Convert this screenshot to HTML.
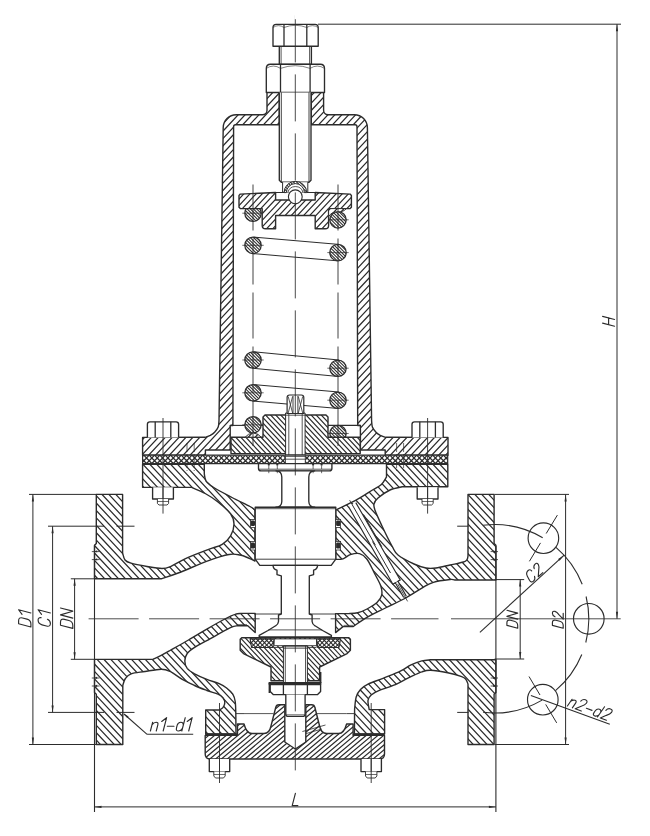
<!DOCTYPE html>
<html><head><meta charset="utf-8"><title>Valve</title>
<style>
html,body{margin:0;padding:0;background:#fff;}
svg{display:block}
</style></head><body>
<svg width="650" height="836" viewBox="0 0 650 836">
<rect width="650" height="836" fill="#fff"/>
<path d="M267.0,92.4 L267.0,110.2 A4.5,4.5 0 0 1 262.5,114.7 L236.2,114.7 A13,13 0 0 0 223.2,127.7 L219.0,420.5 C218.9,421.6 218.9,425.1 218.2,427.0 C217.5,428.9 215.9,430.8 214.6,432.2 C213.3,433.6 211.9,434.5 210.3,435.4 C208.7,436.2 205.9,437.0 205.0,437.3 L142.6,437.4 L142.6,455.2 L205.4,455.2 L205.4,450.0 L230.2,450.0 L230.2,425.5 L232.9,425.5 L233.6,126.7 A2,2 0 0 1 235.6,124.7 L279.3,124.7 L279.3,92.4Z" fill="#fff" stroke="none"/>
<clipPath id="c1"><path d="M267.0,92.4 L267.0,110.2 A4.5,4.5 0 0 1 262.5,114.7 L236.2,114.7 A13,13 0 0 0 223.2,127.7 L219.0,420.5 C218.9,421.6 218.9,425.1 218.2,427.0 C217.5,428.9 215.9,430.8 214.6,432.2 C213.3,433.6 211.9,434.5 210.3,435.4 C208.7,436.2 205.9,437.0 205.0,437.3 L142.6,437.4 L142.6,455.2 L205.4,455.2 L205.4,450.0 L230.2,450.0 L230.2,425.5 L232.9,425.5 L233.6,126.7 A2,2 0 0 1 235.6,124.7 L279.3,124.7 L279.3,92.4Z"/></clipPath>
<path d="M141.6,92.5L142.6,91.4M141.6,99.9L149.5,91.4M141.6,107.3L156.4,91.4M141.6,114.7L163.3,91.4M141.6,122.1L170.3,91.4M141.6,129.5L177.2,91.4M141.6,136.9L184.1,91.4M141.6,144.3L191.0,91.4M141.6,151.7L197.9,91.4M141.6,159.2L204.8,91.4M141.6,166.6L211.7,91.4M141.6,174.0L218.6,91.4M141.6,181.4L225.5,91.4M141.6,188.8L232.4,91.4M141.6,196.2L239.3,91.4M141.6,203.6L246.2,91.4M141.6,211.0L253.1,91.4M141.6,218.4L260.0,91.4M141.6,225.8L266.9,91.4M141.6,233.2L273.8,91.4M141.6,240.6L280.3,91.9M141.6,248.0L280.3,99.3M141.6,255.4L280.3,106.7M141.6,262.8L280.3,114.1M141.6,270.2L280.3,121.5M141.6,277.6L280.3,128.9M141.6,285.0L280.3,136.3M141.6,292.4L280.3,143.7M141.6,299.8L280.3,151.1M141.6,307.2L280.3,158.5M141.6,314.6L280.3,165.9M141.6,322.1L280.3,173.3M141.6,329.5L280.3,180.7M141.6,336.9L280.3,188.1M141.6,344.3L280.3,195.5M141.6,351.7L280.3,202.9M141.6,359.1L280.3,210.3M141.6,366.5L280.3,217.7M141.6,373.9L280.3,225.1M141.6,381.3L280.3,232.6M141.6,388.7L280.3,240.0M141.6,396.1L280.3,247.4M141.6,403.5L280.3,254.8M141.6,410.9L280.3,262.2M141.6,418.3L280.3,269.6M141.6,425.7L280.3,277.0M141.6,433.1L280.3,284.4M141.6,440.5L280.3,291.8M141.6,447.9L280.3,299.2M141.6,455.3L280.3,306.6M147.7,456.2L280.3,314.0M154.6,456.2L280.3,321.4M161.5,456.2L280.3,328.8M168.4,456.2L280.3,336.2M175.3,456.2L280.3,343.6M182.2,456.2L280.3,351.0M189.1,456.2L280.3,358.4M196.0,456.2L280.3,365.8M202.9,456.2L280.3,373.2M209.8,456.2L280.3,380.6M216.8,456.2L280.3,388.1M223.7,456.2L280.3,395.5M230.6,456.2L280.3,402.9M237.5,456.2L280.3,410.3M244.4,456.2L280.3,417.7M251.3,456.2L280.3,425.1M258.2,456.2L280.3,432.5M265.1,456.2L280.3,439.9M272.0,456.2L280.3,447.3M278.9,456.2L280.3,454.7" clip-path="url(#c1)" fill="none" stroke="#2c2c2c" stroke-width="1.25"/>
<path d="M267.0,92.4 L267.0,110.2 A4.5,4.5 0 0 1 262.5,114.7 L236.2,114.7 A13,13 0 0 0 223.2,127.7 L219.0,420.5 C218.9,421.6 218.9,425.1 218.2,427.0 C217.5,428.9 215.9,430.8 214.6,432.2 C213.3,433.6 211.9,434.5 210.3,435.4 C208.7,436.2 205.9,437.0 205.0,437.3 L142.6,437.4 L142.6,455.2 L205.4,455.2 L205.4,450.0 L230.2,450.0 L230.2,425.5 L232.9,425.5 L233.6,126.7 A2,2 0 0 1 235.6,124.7 L279.3,124.7 L279.3,92.4Z" fill="none" stroke="#2c2c2c" stroke-width="1.4" stroke-linejoin="round"/>
<path d="M323.6,92.4 L323.6,110.2 A4.5,4.5 0 0 0 328.1,114.7 L354.4,114.7 A13,13 0 0 1 367.4,127.7 L371.6,420.5 C371.7,421.6 371.7,425.1 372.4,427.0 C373.1,428.9 374.7,430.8 376.0,432.2 C377.3,433.6 378.7,434.5 380.3,435.4 C381.9,436.2 384.7,437.0 385.6,437.3 L448.0,437.4 L448.0,455.2 L385.2,455.2 L385.2,450.0 L360.4,450.0 L360.4,425.5 L357.7,425.5 L357.0,126.7 A2,2 0 0 0 355.0,124.7 L311.3,124.7 L311.3,92.4Z" fill="#fff" stroke="none"/>
<clipPath id="c2"><path d="M323.6,92.4 L323.6,110.2 A4.5,4.5 0 0 0 328.1,114.7 L354.4,114.7 A13,13 0 0 1 367.4,127.7 L371.6,420.5 C371.7,421.6 371.7,425.1 372.4,427.0 C373.1,428.9 374.7,430.8 376.0,432.2 C377.3,433.6 378.7,434.5 380.3,435.4 C381.9,436.2 384.7,437.0 385.6,437.3 L448.0,437.4 L448.0,455.2 L385.2,455.2 L385.2,450.0 L360.4,450.0 L360.4,425.5 L357.7,425.5 L357.0,126.7 A2,2 0 0 0 355.0,124.7 L311.3,124.7 L311.3,92.4Z"/></clipPath>
<path d="M310.3,96.7L315.3,91.4M310.3,104.1L322.2,91.4M310.3,111.5L329.1,91.4M310.3,118.9L336.0,91.4M310.3,126.3L342.9,91.4M310.3,133.7L349.8,91.4M310.3,141.1L356.7,91.4M310.3,148.6L363.6,91.4M310.3,156.0L370.5,91.4M310.3,163.4L377.4,91.4M310.3,170.8L384.3,91.4M310.3,178.2L391.2,91.4M310.3,185.6L398.1,91.4M310.3,193.0L405.0,91.4M310.3,200.4L411.9,91.4M310.3,207.8L418.8,91.4M310.3,215.2L425.7,91.4M310.3,222.6L432.6,91.4M310.3,230.0L439.5,91.4M310.3,237.4L446.5,91.4M310.3,244.8L449.0,96.1M310.3,252.2L449.0,103.5M310.3,259.6L449.0,110.9M310.3,267.0L449.0,118.3M310.3,274.4L449.0,125.7M310.3,281.8L449.0,133.1M310.3,289.2L449.0,140.5M310.3,296.6L449.0,147.9M310.3,304.0L449.0,155.3M310.3,311.5L449.0,162.7M310.3,318.9L449.0,170.1M310.3,326.3L449.0,177.5M310.3,333.7L449.0,184.9M310.3,341.1L449.0,192.3M310.3,348.5L449.0,199.7M310.3,355.9L449.0,207.1M310.3,363.3L449.0,214.5M310.3,370.7L449.0,222.0M310.3,378.1L449.0,229.4M310.3,385.5L449.0,236.8M310.3,392.9L449.0,244.2M310.3,400.3L449.0,251.6M310.3,407.7L449.0,259.0M310.3,415.1L449.0,266.4M310.3,422.5L449.0,273.8M310.3,429.9L449.0,281.2M310.3,437.3L449.0,288.6M310.3,444.7L449.0,296.0M310.3,452.1L449.0,303.4M313.4,456.2L449.0,310.8M320.3,456.2L449.0,318.2M327.2,456.2L449.0,325.6M334.1,456.2L449.0,333.0M341.0,456.2L449.0,340.4M347.9,456.2L449.0,347.8M354.9,456.2L449.0,355.2M361.8,456.2L449.0,362.6M368.7,456.2L449.0,370.0M375.6,456.2L449.0,377.5M382.5,456.2L449.0,384.9M389.4,456.2L449.0,392.3M396.3,456.2L449.0,399.7M403.2,456.2L449.0,407.1M410.1,456.2L449.0,414.5M417.0,456.2L449.0,421.9M423.9,456.2L449.0,429.3M430.8,456.2L449.0,436.7M437.7,456.2L449.0,444.1M444.6,456.2L449.0,451.5" clip-path="url(#c2)" fill="none" stroke="#2c2c2c" stroke-width="1.25"/>
<path d="M323.6,92.4 L323.6,110.2 A4.5,4.5 0 0 0 328.1,114.7 L354.4,114.7 A13,13 0 0 1 367.4,127.7 L371.6,420.5 C371.7,421.6 371.7,425.1 372.4,427.0 C373.1,428.9 374.7,430.8 376.0,432.2 C377.3,433.6 378.7,434.5 380.3,435.4 C381.9,436.2 384.7,437.0 385.6,437.3 L448.0,437.4 L448.0,455.2 L385.2,455.2 L385.2,450.0 L360.4,450.0 L360.4,425.5 L357.7,425.5 L357.0,126.7 A2,2 0 0 0 355.0,124.7 L311.3,124.7 L311.3,92.4Z" fill="none" stroke="#2c2c2c" stroke-width="1.4" stroke-linejoin="round"/>
<path d="M279.3,46 L279.3,64.5 L311.4,64.5 L311.4,46Z" fill="#fff" stroke="#2c2c2c" stroke-width="1.35" stroke-linejoin="round" />
<line x1="281.1" y1="46.0" x2="281.1" y2="64.5" stroke="#2c2c2c" stroke-width="0.8"/>
<line x1="309.6" y1="46.0" x2="309.6" y2="64.5" stroke="#2c2c2c" stroke-width="0.8"/>
<path d="M273.0,46.2 L273.0,27.5 Q273.0,24.3 276.2,24.3 L315.0,24.3 Q318.2,24.3 318.2,27.5 L318.2,46.2Z" fill="#fff" stroke="#2c2c2c" stroke-width="1.35" stroke-linejoin="round" />
<line x1="284.0" y1="24.8" x2="284.0" y2="46.2" stroke="#2c2c2c" stroke-width="1.3"/>
<line x1="306.8" y1="24.8" x2="306.8" y2="46.2" stroke="#2c2c2c" stroke-width="1.3"/>
<path d="M273.0,27.5 Q278.5,23.8 284.0,27.5 Q295.4,23.1 306.8,27.5 Q312.5,23.8 318.2,27.5" fill="none" stroke="#2c2c2c" stroke-width="0.6"/>
<path d="M266.3,92.5 L266.3,68.4 Q266.3,64.2 270.5,64.2 L320.3,64.2 Q324.5,64.2 324.5,68.4 L324.5,92.5Z" fill="#fff" stroke="#2c2c2c" stroke-width="1.35" stroke-linejoin="round" />
<line x1="280.5" y1="64.7" x2="280.5" y2="92.5" stroke="#2c2c2c" stroke-width="1.3"/>
<line x1="310.1" y1="64.7" x2="310.1" y2="92.5" stroke="#2c2c2c" stroke-width="1.3"/>
<path d="M266.3,68.4 Q273.4,63.7 280.5,68.4 Q295.3,63.0 310.1,68.4 Q317.3,63.7 324.5,68.4" fill="none" stroke="#2c2c2c" stroke-width="0.6"/>
<path d="M279.3,92.4 L279.3,180.2 L281.3,182.2 L309,182.2 L311,180.2 L311,92.4" fill="#fff" stroke="#2c2c2c" stroke-width="1.35" stroke-linejoin="round" />
<line x1="281.3" y1="92.4" x2="281.3" y2="182.0" stroke="#2c2c2c" stroke-width="0.9"/>
<line x1="309.0" y1="92.4" x2="309.0" y2="182.0" stroke="#2c2c2c" stroke-width="0.9"/>
<path d="M282.6,182.2 L282.6,192.3 L307.8,192.3 L307.8,182.2" fill="#fff" stroke="#2c2c2c" stroke-width="1.0" stroke-linejoin="round" />
<line x1="252.3" y1="253.5" x2="337.3" y2="260.8" stroke="#2c2c2c" stroke-width="1.0"/>
<line x1="253.7" y1="237.1" x2="338.7" y2="244.4" stroke="#2c2c2c" stroke-width="1.0"/>
<line x1="252.2" y1="368.2" x2="337.2" y2="376.4" stroke="#2c2c2c" stroke-width="1.0"/>
<line x1="253.8" y1="351.8" x2="338.8" y2="360.0" stroke="#2c2c2c" stroke-width="1.0"/>
<line x1="252.3" y1="401.0" x2="337.3" y2="408.4" stroke="#2c2c2c" stroke-width="1.0"/>
<line x1="253.7" y1="384.6" x2="338.7" y2="392.0" stroke="#2c2c2c" stroke-width="1.0"/>
<path d="M244.8,213.2 A8.2,8.2 0 1 1 261.2,213.2 A8.2,8.2 0 1 1 244.8,213.2Z" fill="#fff" stroke="none"/>
<clipPath id="c3"><path d="M244.8,213.2 A8.2,8.2 0 1 1 261.2,213.2 A8.2,8.2 0 1 1 244.8,213.2Z"/></clipPath>
<path d="M261.3,204.0L262.2,204.9M258.1,204.0L262.2,208.1M254.9,204.0L262.2,211.3M251.7,204.0L262.2,214.5M248.5,204.0L262.2,217.7M245.4,204.0L262.2,220.8M243.8,205.6L260.6,222.4M243.8,208.8L257.4,222.4M243.8,212.0L254.2,222.4M243.8,215.2L251.0,222.4M243.8,218.3L247.9,222.4M243.8,221.5L244.7,222.4" clip-path="url(#c3)" fill="none" stroke="#2c2c2c" stroke-width="1.05"/>
<path d="M244.8,213.2 A8.2,8.2 0 1 1 261.2,213.2 A8.2,8.2 0 1 1 244.8,213.2Z" fill="none" stroke="#2c2c2c" stroke-width="1.25" stroke-linejoin="round"/>
<line x1="242.3" y1="213.2" x2="263.7" y2="213.2" stroke="#2c2c2c" stroke-width="0.7"/>
<path d="M329.8,219.8 A8.2,8.2 0 1 1 346.2,219.8 A8.2,8.2 0 1 1 329.8,219.8Z" fill="#fff" stroke="none"/>
<clipPath id="c4"><path d="M329.8,219.8 A8.2,8.2 0 1 1 346.2,219.8 A8.2,8.2 0 1 1 329.8,219.8Z"/></clipPath>
<path d="M344.2,210.6L347.2,213.6M341.1,210.6L347.2,216.7M337.9,210.6L347.2,219.9M334.7,210.6L347.2,223.1M331.5,210.6L347.2,226.3M328.8,211.1L346.7,229.0M328.8,214.2L343.6,229.0M328.8,217.4L340.4,229.0M328.8,220.6L337.2,229.0M328.8,223.8L334.0,229.0M328.8,227.0L330.8,229.0" clip-path="url(#c4)" fill="none" stroke="#2c2c2c" stroke-width="1.05"/>
<path d="M329.8,219.8 A8.2,8.2 0 1 1 346.2,219.8 A8.2,8.2 0 1 1 329.8,219.8Z" fill="none" stroke="#2c2c2c" stroke-width="1.25" stroke-linejoin="round"/>
<line x1="327.3" y1="219.8" x2="348.7" y2="219.8" stroke="#2c2c2c" stroke-width="0.7"/>
<path d="M244.8,245.3 A8.2,8.2 0 1 1 261.2,245.3 A8.2,8.2 0 1 1 244.8,245.3Z" fill="#fff" stroke="none"/>
<clipPath id="c5"><path d="M244.8,245.3 A8.2,8.2 0 1 1 261.2,245.3 A8.2,8.2 0 1 1 244.8,245.3Z"/></clipPath>
<path d="M261.6,236.1L262.2,236.7M258.4,236.1L262.2,239.9M255.2,236.1L262.2,243.1M252.0,236.1L262.2,246.3M248.8,236.1L262.2,249.5M245.6,236.1L262.2,252.7M243.8,237.4L260.9,254.5M243.8,240.6L257.7,254.5M243.8,243.8L254.5,254.5M243.8,247.0L251.3,254.5M243.8,250.2L248.1,254.5M243.8,253.3L245.0,254.5" clip-path="url(#c5)" fill="none" stroke="#2c2c2c" stroke-width="1.05"/>
<path d="M244.8,245.3 A8.2,8.2 0 1 1 261.2,245.3 A8.2,8.2 0 1 1 244.8,245.3Z" fill="none" stroke="#2c2c2c" stroke-width="1.25" stroke-linejoin="round"/>
<line x1="242.3" y1="245.3" x2="263.7" y2="245.3" stroke="#2c2c2c" stroke-width="0.7"/>
<path d="M329.8,252.6 A8.2,8.2 0 1 1 346.2,252.6 A8.2,8.2 0 1 1 329.8,252.6Z" fill="#fff" stroke="none"/>
<clipPath id="c6"><path d="M329.8,252.6 A8.2,8.2 0 1 1 346.2,252.6 A8.2,8.2 0 1 1 329.8,252.6Z"/></clipPath>
<path d="M345.2,243.4L347.2,245.4M342.0,243.4L347.2,248.6M338.9,243.4L347.2,251.7M335.7,243.4L347.2,254.9M332.5,243.4L347.2,258.1M329.3,243.4L347.2,261.3M328.8,246.1L344.5,261.8M328.8,249.3L341.3,261.8M328.8,252.4L338.2,261.8M328.8,255.6L335.0,261.8M328.8,258.8L331.8,261.8" clip-path="url(#c6)" fill="none" stroke="#2c2c2c" stroke-width="1.05"/>
<path d="M329.8,252.6 A8.2,8.2 0 1 1 346.2,252.6 A8.2,8.2 0 1 1 329.8,252.6Z" fill="none" stroke="#2c2c2c" stroke-width="1.25" stroke-linejoin="round"/>
<line x1="327.3" y1="252.6" x2="348.7" y2="252.6" stroke="#2c2c2c" stroke-width="0.7"/>
<path d="M244.8,360.0 A8.2,8.2 0 1 1 261.2,360.0 A8.2,8.2 0 1 1 244.8,360.0Z" fill="#fff" stroke="none"/>
<clipPath id="c7"><path d="M244.8,360.0 A8.2,8.2 0 1 1 261.2,360.0 A8.2,8.2 0 1 1 244.8,360.0Z"/></clipPath>
<path d="M261.7,350.8L262.2,351.3M258.5,350.8L262.2,354.5M255.3,350.8L262.2,357.7M252.2,350.8L262.2,360.8M249.0,350.8L262.2,364.0M245.8,350.8L262.2,367.2M243.8,352.0L261.0,369.2M243.8,355.2L257.8,369.2M243.8,358.4L254.6,369.2M243.8,361.5L251.5,369.2M243.8,364.7L248.3,369.2M243.8,367.9L245.1,369.2" clip-path="url(#c7)" fill="none" stroke="#2c2c2c" stroke-width="1.05"/>
<path d="M244.8,360.0 A8.2,8.2 0 1 1 261.2,360.0 A8.2,8.2 0 1 1 244.8,360.0Z" fill="none" stroke="#2c2c2c" stroke-width="1.25" stroke-linejoin="round"/>
<line x1="242.3" y1="360.0" x2="263.7" y2="360.0" stroke="#2c2c2c" stroke-width="0.7"/>
<path d="M329.8,368.2 A8.2,8.2 0 1 1 346.2,368.2 A8.2,8.2 0 1 1 329.8,368.2Z" fill="#fff" stroke="none"/>
<clipPath id="c8"><path d="M329.8,368.2 A8.2,8.2 0 1 1 346.2,368.2 A8.2,8.2 0 1 1 329.8,368.2Z"/></clipPath>
<path d="M346.3,359.0L347.2,359.9M343.1,359.0L347.2,363.1M339.9,359.0L347.2,366.3M336.7,359.0L347.2,369.5M333.5,359.0L347.2,372.7M330.4,359.0L347.2,375.8M328.8,360.6L345.6,377.4M328.8,363.8L342.4,377.4M328.8,367.0L339.2,377.4M328.8,370.2L336.0,377.4M328.8,373.3L332.9,377.4M328.8,376.5L329.7,377.4" clip-path="url(#c8)" fill="none" stroke="#2c2c2c" stroke-width="1.05"/>
<path d="M329.8,368.2 A8.2,8.2 0 1 1 346.2,368.2 A8.2,8.2 0 1 1 329.8,368.2Z" fill="none" stroke="#2c2c2c" stroke-width="1.25" stroke-linejoin="round"/>
<line x1="327.3" y1="368.2" x2="348.7" y2="368.2" stroke="#2c2c2c" stroke-width="0.7"/>
<path d="M244.8,392.8 A8.2,8.2 0 1 1 261.2,392.8 A8.2,8.2 0 1 1 244.8,392.8Z" fill="#fff" stroke="none"/>
<clipPath id="c9"><path d="M244.8,392.8 A8.2,8.2 0 1 1 261.2,392.8 A8.2,8.2 0 1 1 244.8,392.8Z"/></clipPath>
<path d="M259.5,383.6L262.2,386.3M256.3,383.6L262.2,389.5M253.1,383.6L262.2,392.7M250.0,383.6L262.2,395.8M246.8,383.6L262.2,399.0M243.8,383.8L262.0,402.0M243.8,387.0L258.8,402.0M243.8,390.2L255.6,402.0M243.8,393.4L252.4,402.0M243.8,396.5L249.3,402.0M243.8,399.7L246.1,402.0" clip-path="url(#c9)" fill="none" stroke="#2c2c2c" stroke-width="1.05"/>
<path d="M244.8,392.8 A8.2,8.2 0 1 1 261.2,392.8 A8.2,8.2 0 1 1 244.8,392.8Z" fill="none" stroke="#2c2c2c" stroke-width="1.25" stroke-linejoin="round"/>
<line x1="242.3" y1="392.8" x2="263.7" y2="392.8" stroke="#2c2c2c" stroke-width="0.7"/>
<path d="M329.8,400.2 A8.2,8.2 0 1 1 346.2,400.2 A8.2,8.2 0 1 1 329.8,400.2Z" fill="#fff" stroke="none"/>
<clipPath id="c10"><path d="M329.8,400.2 A8.2,8.2 0 1 1 346.2,400.2 A8.2,8.2 0 1 1 329.8,400.2Z"/></clipPath>
<path d="M346.5,391.0L347.2,391.7M343.3,391.0L347.2,394.9M340.1,391.0L347.2,398.1M336.9,391.0L347.2,401.3M333.7,391.0L347.2,404.5M330.5,391.0L347.2,407.7M328.8,392.4L345.8,409.4M328.8,395.6L342.6,409.4M328.8,398.8L339.4,409.4M328.8,402.0L336.2,409.4M328.8,405.2L333.0,409.4M328.8,408.3L329.9,409.4" clip-path="url(#c10)" fill="none" stroke="#2c2c2c" stroke-width="1.05"/>
<path d="M329.8,400.2 A8.2,8.2 0 1 1 346.2,400.2 A8.2,8.2 0 1 1 329.8,400.2Z" fill="none" stroke="#2c2c2c" stroke-width="1.25" stroke-linejoin="round"/>
<line x1="327.3" y1="400.2" x2="348.7" y2="400.2" stroke="#2c2c2c" stroke-width="0.7"/>
<path d="M244.8,424.8 A8.2,8.2 0 1 1 261.2,424.8 A8.2,8.2 0 1 1 244.8,424.8Z" fill="#fff" stroke="none"/>
<clipPath id="c11"><path d="M244.8,424.8 A8.2,8.2 0 1 1 261.2,424.8 A8.2,8.2 0 1 1 244.8,424.8Z"/></clipPath>
<path d="M259.7,415.6L262.2,418.1M256.5,415.6L262.2,421.3M253.3,415.6L262.2,424.5M250.1,415.6L262.2,427.7M247.0,415.6L262.2,430.8M243.8,415.6L262.2,434.0M243.8,418.8L259.0,434.0M243.8,422.0L255.8,434.0M243.8,425.2L252.6,434.0M243.8,428.4L249.4,434.0M243.8,431.5L246.3,434.0" clip-path="url(#c11)" fill="none" stroke="#2c2c2c" stroke-width="1.05"/>
<path d="M244.8,424.8 A8.2,8.2 0 1 1 261.2,424.8 A8.2,8.2 0 1 1 244.8,424.8Z" fill="none" stroke="#2c2c2c" stroke-width="1.25" stroke-linejoin="round"/>
<line x1="242.3" y1="424.8" x2="263.7" y2="424.8" stroke="#2c2c2c" stroke-width="0.7"/>
<path d="M329.8,433.5 A8.2,8.2 0 1 1 346.2,433.5 A8.2,8.2 0 1 1 329.8,433.5Z" fill="#fff" stroke="none"/>
<clipPath id="c12"><path d="M329.8,433.5 A8.2,8.2 0 1 1 346.2,433.5 A8.2,8.2 0 1 1 329.8,433.5Z"/></clipPath>
<path d="M344.8,424.3L347.2,426.7M341.6,424.3L347.2,429.9M338.4,424.3L347.2,433.1M335.2,424.3L347.2,436.3M332.0,424.3L347.2,439.5M328.8,424.3L347.2,442.7M328.8,427.4L344.1,442.7M328.8,430.6L340.9,442.7M328.8,433.8L337.7,442.7M328.8,437.0L334.5,442.7M328.8,440.2L331.3,442.7" clip-path="url(#c12)" fill="none" stroke="#2c2c2c" stroke-width="1.05"/>
<path d="M329.8,433.5 A8.2,8.2 0 1 1 346.2,433.5 A8.2,8.2 0 1 1 329.8,433.5Z" fill="none" stroke="#2c2c2c" stroke-width="1.25" stroke-linejoin="round"/>
<line x1="327.3" y1="433.5" x2="348.7" y2="433.5" stroke="#2c2c2c" stroke-width="0.7"/>
<path d="M239.0,195.4 L240.3,194.1 L275.6,192.5 L275.6,200 L315.2,200 L315.2,192.5 L350.1,194.1 L351.4,195.4 L351.4,207.3 L350.1,208.6 L328.6,208.6 L328.6,225.4 Q328.6,228.8 325.2,228.8 L315.2,228.8 L315.2,215.5 L275.6,215.5 L275.6,228.8 L265.6,228.8 Q262.2,228.8 262.2,225.4 L262.2,208.6 L240.3,208.6 L239.0,207.3Z" fill="#fff" stroke="none"/>
<clipPath id="c13"><path d="M239.0,195.4 L240.3,194.1 L275.6,192.5 L275.6,200 L315.2,200 L315.2,192.5 L350.1,194.1 L351.4,195.4 L351.4,207.3 L350.1,208.6 L328.6,208.6 L328.6,225.4 Q328.6,228.8 325.2,228.8 L315.2,228.8 L315.2,215.5 L275.6,215.5 L275.6,228.8 L265.6,228.8 Q262.2,228.8 262.2,225.4 L262.2,208.6 L240.3,208.6 L239.0,207.3Z"/></clipPath>
<path d="M238.0,193.5L239.8,191.5M238.0,200.1L246.0,191.5M238.0,206.7L252.1,191.5M238.0,213.3L258.3,191.5M238.0,219.9L264.4,191.5M238.0,226.4L270.6,191.5M241.0,229.8L276.7,191.5M247.2,229.8L282.9,191.5M253.3,229.8L289.0,191.5M259.5,229.8L295.2,191.5M265.6,229.8L301.4,191.5M271.8,229.8L307.5,191.5M277.9,229.8L313.7,191.5M284.1,229.8L319.8,191.5M290.3,229.8L326.0,191.5M296.4,229.8L332.1,191.5M302.6,229.8L338.3,191.5M308.7,229.8L344.4,191.5M314.9,229.8L350.6,191.5M321.0,229.8L352.4,196.1M327.2,229.8L352.4,202.7M333.3,229.8L352.4,209.3M339.5,229.8L352.4,215.9M345.6,229.8L352.4,222.5M351.8,229.8L352.4,229.1" clip-path="url(#c13)" fill="none" stroke="#2c2c2c" stroke-width="1.2"/>
<path d="M239.0,195.4 L240.3,194.1 L275.6,192.5 L275.6,200 L315.2,200 L315.2,192.5 L350.1,194.1 L351.4,195.4 L351.4,207.3 L350.1,208.6 L328.6,208.6 L328.6,225.4 Q328.6,228.8 325.2,228.8 L315.2,228.8 L315.2,215.5 L275.6,215.5 L275.6,228.8 L265.6,228.8 Q262.2,228.8 262.2,225.4 L262.2,208.6 L240.3,208.6 L239.0,207.3Z" fill="none" stroke="#2c2c2c" stroke-width="1.4" stroke-linejoin="round"/>
<path d="M328.6,208.6 L346.3,208.6 Q343.5,212.4 337.3,211.7 Q331.5,212 328.6,216.5Z" fill="#fff" stroke="none"/>
<clipPath id="c14"><path d="M328.6,208.6 L346.3,208.6 Q343.5,212.4 337.3,211.7 Q331.5,212 328.6,216.5Z"/></clipPath>
<path d="M327.6,211.4L331.2,207.6M328.9,217.5L338.1,207.6M335.8,217.5L345.0,207.6M342.7,217.5L347.3,212.5" clip-path="url(#c14)" fill="none" stroke="#2c2c2c" stroke-width="1.25"/>
<path d="M328.6,208.6 L346.3,208.6 Q343.5,212.4 337.3,211.7 Q331.5,212 328.6,216.5Z" fill="none" stroke="#2c2c2c" stroke-width="1.0" stroke-linejoin="round"/>
<line x1="275.6" y1="192.5" x2="284.2" y2="192.5" stroke="#2c2c2c" stroke-width="1.0"/>
<line x1="306.6" y1="192.5" x2="315.2" y2="192.5" stroke="#2c2c2c" stroke-width="1.0"/>
<path d="M284.1,192.6 A11.3,11.3 0 0 1 306.7,192.6Z" fill="#fff" stroke="none"/>
<path d="M284.1,192.6 A11.3,11.3 0 0 1 306.7,192.6 L304.4,192.6 A9,9 0 0 0 286.4,192.6Z" fill="#fff" stroke="none"/>
<clipPath id="c15"><path d="M284.1,192.6 A11.3,11.3 0 0 1 306.7,192.6 L304.4,192.6 A9,9 0 0 0 286.4,192.6Z"/></clipPath>
<path d="M307.3,180.0L308.0,180.7M304.1,180.0L308.0,183.9M300.9,180.0L308.0,187.1M297.7,180.0L308.0,190.3M294.6,180.0L308.0,193.4M291.4,180.0L305.4,194.0M288.2,180.0L302.2,194.0M285.0,180.0L299.0,194.0M283.0,181.2L295.8,194.0M283.0,184.4L292.6,194.0M283.0,187.5L289.5,194.0M283.0,190.7L286.3,194.0M283.0,193.9L283.1,194.0" clip-path="url(#c15)" fill="none" stroke="#2c2c2c" stroke-width="1.05"/>
<path d="M284.1,192.6 A11.3,11.3 0 0 1 306.7,192.6 L304.4,192.6 A9,9 0 0 0 286.4,192.6Z" fill="none" stroke="#2c2c2c" stroke-width="1.0" stroke-linejoin="round"/>
<path d="M287.8,192.6 A7.8,7.8 0 0 1 303,192.6" fill="none" stroke="#2c2c2c" stroke-width="0.8"/>
<circle cx="295.3" cy="196.8" r="6.9" fill="#fff" stroke="#2c2c2c" stroke-width="1.1"/>
<path d="M263,417 L265,415 L326,415 L328,417 L328,437.2 L360.2,437.2 L360.2,453.6 L231,453.6 L231,437.2 L263,437.2Z" fill="#fff" stroke="none"/>
<clipPath id="c16"><path d="M263,417 L265,415 L326,415 L328,417 L328,437.2 L360.2,437.2 L360.2,453.6 L231,453.6 L231,437.2 L263,437.2Z"/></clipPath>
<path d="M360.8,414.0L361.2,414.5M355.7,414.0L361.2,419.9M350.6,414.0L361.2,425.3M345.6,414.0L361.2,430.7M340.5,414.0L361.2,436.2M335.5,414.0L361.2,441.6M330.4,414.0L361.2,447.0M325.4,414.0L361.2,452.4M320.3,414.0L358.2,454.6M315.2,414.0L353.1,454.6M310.2,414.0L348.0,454.6M305.1,414.0L343.0,454.6M300.1,414.0L337.9,454.6M295.0,414.0L332.9,454.6M289.9,414.0L327.8,454.6M284.9,414.0L322.7,454.6M279.8,414.0L317.7,454.6M274.8,414.0L312.6,454.6M269.7,414.0L307.6,454.6M264.6,414.0L302.5,454.6M259.6,414.0L297.4,454.6M254.5,414.0L292.4,454.6M249.5,414.0L287.3,454.6M244.4,414.0L282.3,454.6M239.3,414.0L277.2,454.6M234.3,414.0L272.1,454.6M230.0,414.8L267.1,454.6M230.0,420.3L262.0,454.6M230.0,425.7L257.0,454.6M230.0,431.1L251.9,454.6M230.0,436.5L246.9,454.6M230.0,442.0L241.8,454.6M230.0,447.4L236.7,454.6M230.0,452.8L231.7,454.6" clip-path="url(#c16)" fill="none" stroke="#2c2c2c" stroke-width="1.2"/>
<path d="M263,417 L265,415 L326,415 L328,417 L328,437.2 L360.2,437.2 L360.2,453.6 L231,453.6 L231,437.2 L263,437.2Z" fill="none" stroke="#2c2c2c" stroke-width="1.4" stroke-linejoin="round"/>
<path d="M245.2,437.2 L261.2,437.2 Q258.5,433.6 253.2,432.9 Q247.8,433.6 245.2,437.2Z" fill="#fff" stroke="none"/>
<clipPath id="c17"><path d="M245.2,437.2 L261.2,437.2 Q258.5,433.6 253.2,432.9 Q247.8,433.6 245.2,437.2Z"/></clipPath>
<path d="M244.2,434.2L246.3,431.9M247.3,438.2L253.2,431.9M254.3,438.2L260.1,431.9M261.2,438.2L262.2,437.1" clip-path="url(#c17)" fill="none" stroke="#2c2c2c" stroke-width="1.25"/>
<path d="M245.2,437.2 L261.2,437.2 Q258.5,433.6 253.2,432.9 Q247.8,433.6 245.2,437.2Z" fill="none" stroke="#2c2c2c" stroke-width="1.0" stroke-linejoin="round"/>
<line x1="230.2" y1="425.4" x2="245.2" y2="425.4" stroke="#2c2c2c" stroke-width="1.1"/>
<line x1="261.2" y1="425.4" x2="263.0" y2="425.4" stroke="#2c2c2c" stroke-width="1.1"/>
<line x1="328.0" y1="425.4" x2="360.4" y2="425.4" stroke="#2c2c2c" stroke-width="1.1"/>
<path d="M285.6,413 L285.6,455.2 L305.1,455.2 L305.1,413Z" fill="#fff" stroke="#2c2c2c" stroke-width="1.0" stroke-linejoin="round" />
<line x1="288.8" y1="413.0" x2="288.8" y2="455.2" stroke="#2c2c2c" stroke-width="0.8"/>
<line x1="302.2" y1="413.0" x2="302.2" y2="455.2" stroke="#2c2c2c" stroke-width="0.8"/>
<path d="M287.1,413.5 L287.1,397.5 Q287.1,395 289.6,395 L301.3,395 Q303.8,395 303.8,397.5 L303.8,413.5Z" fill="#fff" stroke="#2c2c2c" stroke-width="1.2" stroke-linejoin="round" />
<line x1="293.0" y1="396.0" x2="293.0" y2="413.5" stroke="#2c2c2c" stroke-width="0.9"/>
<line x1="297.9" y1="396.0" x2="297.9" y2="413.5" stroke="#2c2c2c" stroke-width="0.9"/>
<line x1="288.2" y1="396.5" x2="292.6" y2="413.0" stroke="#2c2c2c" stroke-width="0.8"/>
<line x1="292.6" y1="396.5" x2="288.2" y2="413.0" stroke="#2c2c2c" stroke-width="0.8"/>
<line x1="298.3" y1="396.5" x2="302.7" y2="413.0" stroke="#2c2c2c" stroke-width="0.8"/>
<line x1="302.7" y1="396.5" x2="298.3" y2="413.0" stroke="#2c2c2c" stroke-width="0.8"/>
<line x1="285.6" y1="415.2" x2="305.1" y2="415.2" stroke="#2c2c2c" stroke-width="0.8"/>
<clipPath id="c18"><path d="M142.6,455.2 L447.7,455.2 L447.7,463.6 L142.6,463.6Z"/></clipPath>
<path d="M142.6,455.2 L447.7,455.2 L447.7,463.6 L142.6,463.6Z" fill="#2c2c2c" stroke="none"/>
<path d="M131.32,452.38L133.12,450.58L134.93,452.38L133.12,454.18ZM136.68,452.38L138.48,450.58L140.28,452.38L138.48,454.18ZM142.03,452.38L143.83,450.58L145.63,452.38L143.83,454.18ZM147.38,452.38L149.18,450.58L150.98,452.38L149.18,454.18ZM152.72,452.38L154.53,450.58L156.33,452.38L154.53,454.18ZM158.07,452.38L159.88,450.58L161.68,452.38L159.88,454.18ZM163.42,452.38L165.22,450.58L167.03,452.38L165.22,454.18ZM168.77,452.38L170.57,450.58L172.38,452.38L170.57,454.18ZM174.12,452.38L175.93,450.58L177.73,452.38L175.93,454.18ZM179.47,452.38L181.28,450.58L183.08,452.38L181.28,454.18ZM184.82,452.38L186.62,450.58L188.43,452.38L186.62,454.18ZM190.17,452.38L191.97,450.58L193.78,452.38L191.97,454.18ZM195.52,452.38L197.32,450.58L199.12,452.38L197.32,454.18ZM200.88,452.38L202.68,450.58L204.48,452.38L202.68,454.18ZM206.22,452.38L208.03,450.58L209.83,452.38L208.03,454.18ZM211.57,452.38L213.38,450.58L215.18,452.38L213.38,454.18ZM216.92,452.38L218.72,450.58L220.53,452.38L218.72,454.18ZM222.27,452.38L224.07,450.58L225.88,452.38L224.07,454.18ZM227.62,452.38L229.43,450.58L231.23,452.38L229.43,454.18ZM232.97,452.38L234.78,450.58L236.58,452.38L234.78,454.18ZM238.32,452.38L240.12,450.58L241.93,452.38L240.12,454.18ZM243.67,452.38L245.47,450.58L247.28,452.38L245.47,454.18ZM249.02,452.38L250.82,450.58L252.62,452.38L250.82,454.18ZM254.38,452.38L256.18,450.58L257.98,452.38L256.18,454.18ZM259.72,452.38L261.52,450.58L263.32,452.38L261.52,454.18ZM265.07,452.38L266.88,450.58L268.68,452.38L266.88,454.18ZM270.43,452.38L272.23,450.58L274.03,452.38L272.23,454.18ZM275.77,452.38L277.57,450.58L279.38,452.38L277.57,454.18ZM281.12,452.38L282.92,450.58L284.72,452.38L282.92,454.18ZM286.47,452.38L288.27,450.58L290.07,452.38L288.27,454.18ZM291.82,452.38L293.62,450.58L295.43,452.38L293.62,454.18ZM297.18,452.38L298.98,450.58L300.78,452.38L298.98,454.18ZM302.52,452.38L304.32,450.58L306.12,452.38L304.32,454.18ZM307.87,452.38L309.67,450.58L311.47,452.38L309.67,454.18ZM313.22,452.38L315.02,450.58L316.82,452.38L315.02,454.18ZM318.57,452.38L320.38,450.58L322.18,452.38L320.38,454.18ZM323.93,452.38L325.73,450.58L327.53,452.38L325.73,454.18ZM329.27,452.38L331.07,450.58L332.88,452.38L331.07,454.18ZM334.62,452.38L336.42,450.58L338.22,452.38L336.42,454.18ZM339.97,452.38L341.77,450.58L343.57,452.38L341.77,454.18ZM345.32,452.38L347.12,450.58L348.93,452.38L347.12,454.18ZM350.68,452.38L352.48,450.58L354.28,452.38L352.48,454.18ZM356.02,452.38L357.82,450.58L359.62,452.38L357.82,454.18ZM361.37,452.38L363.17,450.58L364.97,452.38L363.17,454.18ZM366.72,452.38L368.52,450.58L370.32,452.38L368.52,454.18ZM372.07,452.38L373.88,450.58L375.68,452.38L373.88,454.18ZM377.43,452.38L379.23,450.58L381.03,452.38L379.23,454.18ZM382.77,452.38L384.57,450.58L386.38,452.38L384.57,454.18ZM388.12,452.38L389.92,450.58L391.72,452.38L389.92,454.18ZM393.47,452.38L395.27,450.58L397.07,452.38L395.27,454.18ZM398.82,452.38L400.62,450.58L402.43,452.38L400.62,454.18ZM404.18,452.38L405.98,450.58L407.78,452.38L405.98,454.18ZM409.52,452.38L411.32,450.58L413.12,452.38L411.32,454.18ZM414.87,452.38L416.67,450.58L418.47,452.38L416.67,454.18ZM420.22,452.38L422.02,450.58L423.82,452.38L422.02,454.18ZM425.57,452.38L427.38,450.58L429.18,452.38L427.38,454.18ZM430.93,452.38L432.73,450.58L434.53,452.38L432.73,454.18ZM436.27,452.38L438.07,450.58L439.87,452.38L438.07,454.18ZM441.62,452.38L443.42,450.58L445.22,452.38L443.42,454.18ZM446.97,452.38L448.77,450.58L450.57,452.38L448.77,454.18ZM452.32,452.38L454.12,450.58L455.93,452.38L454.12,454.18ZM134.00,455.15L135.80,453.35L137.60,455.15L135.80,456.95ZM139.35,455.15L141.15,453.35L142.95,455.15L141.15,456.95ZM144.70,455.15L146.50,453.35L148.30,455.15L146.50,456.95ZM150.05,455.15L151.85,453.35L153.65,455.15L151.85,456.95ZM155.40,455.15L157.20,453.35L159.00,455.15L157.20,456.95ZM160.75,455.15L162.55,453.35L164.35,455.15L162.55,456.95ZM166.10,455.15L167.90,453.35L169.70,455.15L167.90,456.95ZM171.45,455.15L173.25,453.35L175.05,455.15L173.25,456.95ZM176.80,455.15L178.60,453.35L180.40,455.15L178.60,456.95ZM182.15,455.15L183.95,453.35L185.75,455.15L183.95,456.95ZM187.50,455.15L189.30,453.35L191.10,455.15L189.30,456.95ZM192.85,455.15L194.65,453.35L196.45,455.15L194.65,456.95ZM198.20,455.15L200.00,453.35L201.80,455.15L200.00,456.95ZM203.55,455.15L205.35,453.35L207.15,455.15L205.35,456.95ZM208.90,455.15L210.70,453.35L212.50,455.15L210.70,456.95ZM214.25,455.15L216.05,453.35L217.85,455.15L216.05,456.95ZM219.60,455.15L221.40,453.35L223.20,455.15L221.40,456.95ZM224.95,455.15L226.75,453.35L228.55,455.15L226.75,456.95ZM230.30,455.15L232.10,453.35L233.90,455.15L232.10,456.95ZM235.65,455.15L237.45,453.35L239.25,455.15L237.45,456.95ZM241.00,455.15L242.80,453.35L244.60,455.15L242.80,456.95ZM246.35,455.15L248.15,453.35L249.95,455.15L248.15,456.95ZM251.70,455.15L253.50,453.35L255.30,455.15L253.50,456.95ZM257.05,455.15L258.85,453.35L260.65,455.15L258.85,456.95ZM262.40,455.15L264.20,453.35L266.00,455.15L264.20,456.95ZM267.75,455.15L269.55,453.35L271.35,455.15L269.55,456.95ZM273.10,455.15L274.90,453.35L276.70,455.15L274.90,456.95ZM278.45,455.15L280.25,453.35L282.05,455.15L280.25,456.95ZM283.80,455.15L285.60,453.35L287.40,455.15L285.60,456.95ZM289.15,455.15L290.95,453.35L292.75,455.15L290.95,456.95ZM294.50,455.15L296.30,453.35L298.10,455.15L296.30,456.95ZM299.85,455.15L301.65,453.35L303.45,455.15L301.65,456.95ZM305.20,455.15L307.00,453.35L308.80,455.15L307.00,456.95ZM310.55,455.15L312.35,453.35L314.15,455.15L312.35,456.95ZM315.90,455.15L317.70,453.35L319.50,455.15L317.70,456.95ZM321.25,455.15L323.05,453.35L324.85,455.15L323.05,456.95ZM326.60,455.15L328.40,453.35L330.20,455.15L328.40,456.95ZM331.95,455.15L333.75,453.35L335.55,455.15L333.75,456.95ZM337.30,455.15L339.10,453.35L340.90,455.15L339.10,456.95ZM342.65,455.15L344.45,453.35L346.25,455.15L344.45,456.95ZM348.00,455.15L349.80,453.35L351.60,455.15L349.80,456.95ZM353.35,455.15L355.15,453.35L356.95,455.15L355.15,456.95ZM358.70,455.15L360.50,453.35L362.30,455.15L360.50,456.95ZM364.05,455.15L365.85,453.35L367.65,455.15L365.85,456.95ZM369.40,455.15L371.20,453.35L373.00,455.15L371.20,456.95ZM374.75,455.15L376.55,453.35L378.35,455.15L376.55,456.95ZM380.10,455.15L381.90,453.35L383.70,455.15L381.90,456.95ZM385.45,455.15L387.25,453.35L389.05,455.15L387.25,456.95ZM390.80,455.15L392.60,453.35L394.40,455.15L392.60,456.95ZM396.15,455.15L397.95,453.35L399.75,455.15L397.95,456.95ZM401.50,455.15L403.30,453.35L405.10,455.15L403.30,456.95ZM406.85,455.15L408.65,453.35L410.45,455.15L408.65,456.95ZM412.20,455.15L414.00,453.35L415.80,455.15L414.00,456.95ZM417.55,455.15L419.35,453.35L421.15,455.15L419.35,456.95ZM422.90,455.15L424.70,453.35L426.50,455.15L424.70,456.95ZM428.25,455.15L430.05,453.35L431.85,455.15L430.05,456.95ZM433.60,455.15L435.40,453.35L437.20,455.15L435.40,456.95ZM438.95,455.15L440.75,453.35L442.55,455.15L440.75,456.95ZM444.30,455.15L446.10,453.35L447.90,455.15L446.10,456.95ZM449.65,455.15L451.45,453.35L453.25,455.15L451.45,456.95ZM455.00,455.15L456.80,453.35L458.60,455.15L456.80,456.95ZM131.32,457.92L133.12,456.12L134.93,457.92L133.12,459.72ZM136.68,457.92L138.48,456.12L140.28,457.92L138.48,459.72ZM142.03,457.92L143.83,456.12L145.63,457.92L143.83,459.72ZM147.38,457.92L149.18,456.12L150.98,457.92L149.18,459.72ZM152.72,457.92L154.53,456.12L156.33,457.92L154.53,459.72ZM158.07,457.92L159.88,456.12L161.68,457.92L159.88,459.72ZM163.42,457.92L165.22,456.12L167.03,457.92L165.22,459.72ZM168.77,457.92L170.57,456.12L172.38,457.92L170.57,459.72ZM174.12,457.92L175.93,456.12L177.73,457.92L175.93,459.72ZM179.47,457.92L181.28,456.12L183.08,457.92L181.28,459.72ZM184.82,457.92L186.62,456.12L188.43,457.92L186.62,459.72ZM190.17,457.92L191.97,456.12L193.78,457.92L191.97,459.72ZM195.52,457.92L197.32,456.12L199.12,457.92L197.32,459.72ZM200.88,457.92L202.68,456.12L204.48,457.92L202.68,459.72ZM206.22,457.92L208.03,456.12L209.83,457.92L208.03,459.72ZM211.57,457.92L213.38,456.12L215.18,457.92L213.38,459.72ZM216.92,457.92L218.72,456.12L220.53,457.92L218.72,459.72ZM222.27,457.92L224.07,456.12L225.88,457.92L224.07,459.72ZM227.62,457.92L229.43,456.12L231.23,457.92L229.43,459.72ZM232.97,457.92L234.78,456.12L236.58,457.92L234.78,459.72ZM238.32,457.92L240.12,456.12L241.93,457.92L240.12,459.72ZM243.67,457.92L245.47,456.12L247.28,457.92L245.47,459.72ZM249.02,457.92L250.82,456.12L252.62,457.92L250.82,459.72ZM254.38,457.92L256.18,456.12L257.98,457.92L256.18,459.72ZM259.72,457.92L261.52,456.12L263.32,457.92L261.52,459.72ZM265.07,457.92L266.88,456.12L268.68,457.92L266.88,459.72ZM270.43,457.92L272.23,456.12L274.03,457.92L272.23,459.72ZM275.77,457.92L277.57,456.12L279.38,457.92L277.57,459.72ZM281.12,457.92L282.92,456.12L284.72,457.92L282.92,459.72ZM286.47,457.92L288.27,456.12L290.07,457.92L288.27,459.72ZM291.82,457.92L293.62,456.12L295.43,457.92L293.62,459.72ZM297.18,457.92L298.98,456.12L300.78,457.92L298.98,459.72ZM302.52,457.92L304.32,456.12L306.12,457.92L304.32,459.72ZM307.87,457.92L309.67,456.12L311.47,457.92L309.67,459.72ZM313.22,457.92L315.02,456.12L316.82,457.92L315.02,459.72ZM318.57,457.92L320.38,456.12L322.18,457.92L320.38,459.72ZM323.93,457.92L325.73,456.12L327.53,457.92L325.73,459.72ZM329.27,457.92L331.07,456.12L332.88,457.92L331.07,459.72ZM334.62,457.92L336.42,456.12L338.22,457.92L336.42,459.72ZM339.97,457.92L341.77,456.12L343.57,457.92L341.77,459.72ZM345.32,457.92L347.12,456.12L348.93,457.92L347.12,459.72ZM350.68,457.92L352.48,456.12L354.28,457.92L352.48,459.72ZM356.02,457.92L357.82,456.12L359.62,457.92L357.82,459.72ZM361.37,457.92L363.17,456.12L364.97,457.92L363.17,459.72ZM366.72,457.92L368.52,456.12L370.32,457.92L368.52,459.72ZM372.07,457.92L373.88,456.12L375.68,457.92L373.88,459.72ZM377.43,457.92L379.23,456.12L381.03,457.92L379.23,459.72ZM382.77,457.92L384.57,456.12L386.38,457.92L384.57,459.72ZM388.12,457.92L389.92,456.12L391.72,457.92L389.92,459.72ZM393.47,457.92L395.27,456.12L397.07,457.92L395.27,459.72ZM398.82,457.92L400.62,456.12L402.43,457.92L400.62,459.72ZM404.18,457.92L405.98,456.12L407.78,457.92L405.98,459.72ZM409.52,457.92L411.32,456.12L413.12,457.92L411.32,459.72ZM414.87,457.92L416.67,456.12L418.47,457.92L416.67,459.72ZM420.22,457.92L422.02,456.12L423.82,457.92L422.02,459.72ZM425.57,457.92L427.38,456.12L429.18,457.92L427.38,459.72ZM430.93,457.92L432.73,456.12L434.53,457.92L432.73,459.72ZM436.27,457.92L438.07,456.12L439.87,457.92L438.07,459.72ZM441.62,457.92L443.42,456.12L445.22,457.92L443.42,459.72ZM446.97,457.92L448.77,456.12L450.57,457.92L448.77,459.72ZM452.32,457.92L454.12,456.12L455.93,457.92L454.12,459.72ZM134.00,460.69L135.80,458.89L137.60,460.69L135.80,462.49ZM139.35,460.69L141.15,458.89L142.95,460.69L141.15,462.49ZM144.70,460.69L146.50,458.89L148.30,460.69L146.50,462.49ZM150.05,460.69L151.85,458.89L153.65,460.69L151.85,462.49ZM155.40,460.69L157.20,458.89L159.00,460.69L157.20,462.49ZM160.75,460.69L162.55,458.89L164.35,460.69L162.55,462.49ZM166.10,460.69L167.90,458.89L169.70,460.69L167.90,462.49ZM171.45,460.69L173.25,458.89L175.05,460.69L173.25,462.49ZM176.80,460.69L178.60,458.89L180.40,460.69L178.60,462.49ZM182.15,460.69L183.95,458.89L185.75,460.69L183.95,462.49ZM187.50,460.69L189.30,458.89L191.10,460.69L189.30,462.49ZM192.85,460.69L194.65,458.89L196.45,460.69L194.65,462.49ZM198.20,460.69L200.00,458.89L201.80,460.69L200.00,462.49ZM203.55,460.69L205.35,458.89L207.15,460.69L205.35,462.49ZM208.90,460.69L210.70,458.89L212.50,460.69L210.70,462.49ZM214.25,460.69L216.05,458.89L217.85,460.69L216.05,462.49ZM219.60,460.69L221.40,458.89L223.20,460.69L221.40,462.49ZM224.95,460.69L226.75,458.89L228.55,460.69L226.75,462.49ZM230.30,460.69L232.10,458.89L233.90,460.69L232.10,462.49ZM235.65,460.69L237.45,458.89L239.25,460.69L237.45,462.49ZM241.00,460.69L242.80,458.89L244.60,460.69L242.80,462.49ZM246.35,460.69L248.15,458.89L249.95,460.69L248.15,462.49ZM251.70,460.69L253.50,458.89L255.30,460.69L253.50,462.49ZM257.05,460.69L258.85,458.89L260.65,460.69L258.85,462.49ZM262.40,460.69L264.20,458.89L266.00,460.69L264.20,462.49ZM267.75,460.69L269.55,458.89L271.35,460.69L269.55,462.49ZM273.10,460.69L274.90,458.89L276.70,460.69L274.90,462.49ZM278.45,460.69L280.25,458.89L282.05,460.69L280.25,462.49ZM283.80,460.69L285.60,458.89L287.40,460.69L285.60,462.49ZM289.15,460.69L290.95,458.89L292.75,460.69L290.95,462.49ZM294.50,460.69L296.30,458.89L298.10,460.69L296.30,462.49ZM299.85,460.69L301.65,458.89L303.45,460.69L301.65,462.49ZM305.20,460.69L307.00,458.89L308.80,460.69L307.00,462.49ZM310.55,460.69L312.35,458.89L314.15,460.69L312.35,462.49ZM315.90,460.69L317.70,458.89L319.50,460.69L317.70,462.49ZM321.25,460.69L323.05,458.89L324.85,460.69L323.05,462.49ZM326.60,460.69L328.40,458.89L330.20,460.69L328.40,462.49ZM331.95,460.69L333.75,458.89L335.55,460.69L333.75,462.49ZM337.30,460.69L339.10,458.89L340.90,460.69L339.10,462.49ZM342.65,460.69L344.45,458.89L346.25,460.69L344.45,462.49ZM348.00,460.69L349.80,458.89L351.60,460.69L349.80,462.49ZM353.35,460.69L355.15,458.89L356.95,460.69L355.15,462.49ZM358.70,460.69L360.50,458.89L362.30,460.69L360.50,462.49ZM364.05,460.69L365.85,458.89L367.65,460.69L365.85,462.49ZM369.40,460.69L371.20,458.89L373.00,460.69L371.20,462.49ZM374.75,460.69L376.55,458.89L378.35,460.69L376.55,462.49ZM380.10,460.69L381.90,458.89L383.70,460.69L381.90,462.49ZM385.45,460.69L387.25,458.89L389.05,460.69L387.25,462.49ZM390.80,460.69L392.60,458.89L394.40,460.69L392.60,462.49ZM396.15,460.69L397.95,458.89L399.75,460.69L397.95,462.49ZM401.50,460.69L403.30,458.89L405.10,460.69L403.30,462.49ZM406.85,460.69L408.65,458.89L410.45,460.69L408.65,462.49ZM412.20,460.69L414.00,458.89L415.80,460.69L414.00,462.49ZM417.55,460.69L419.35,458.89L421.15,460.69L419.35,462.49ZM422.90,460.69L424.70,458.89L426.50,460.69L424.70,462.49ZM428.25,460.69L430.05,458.89L431.85,460.69L430.05,462.49ZM433.60,460.69L435.40,458.89L437.20,460.69L435.40,462.49ZM438.95,460.69L440.75,458.89L442.55,460.69L440.75,462.49ZM444.30,460.69L446.10,458.89L447.90,460.69L446.10,462.49ZM449.65,460.69L451.45,458.89L453.25,460.69L451.45,462.49ZM455.00,460.69L456.80,458.89L458.60,460.69L456.80,462.49ZM131.32,463.46L133.12,461.66L134.93,463.46L133.12,465.26ZM136.68,463.46L138.48,461.66L140.28,463.46L138.48,465.26ZM142.03,463.46L143.83,461.66L145.63,463.46L143.83,465.26ZM147.38,463.46L149.18,461.66L150.98,463.46L149.18,465.26ZM152.72,463.46L154.53,461.66L156.33,463.46L154.53,465.26ZM158.07,463.46L159.88,461.66L161.68,463.46L159.88,465.26ZM163.42,463.46L165.22,461.66L167.03,463.46L165.22,465.26ZM168.77,463.46L170.57,461.66L172.38,463.46L170.57,465.26ZM174.12,463.46L175.93,461.66L177.73,463.46L175.93,465.26ZM179.47,463.46L181.28,461.66L183.08,463.46L181.28,465.26ZM184.82,463.46L186.62,461.66L188.43,463.46L186.62,465.26ZM190.17,463.46L191.97,461.66L193.78,463.46L191.97,465.26ZM195.52,463.46L197.32,461.66L199.12,463.46L197.32,465.26ZM200.88,463.46L202.68,461.66L204.48,463.46L202.68,465.26ZM206.22,463.46L208.03,461.66L209.83,463.46L208.03,465.26ZM211.57,463.46L213.38,461.66L215.18,463.46L213.38,465.26ZM216.92,463.46L218.72,461.66L220.53,463.46L218.72,465.26ZM222.27,463.46L224.07,461.66L225.88,463.46L224.07,465.26ZM227.62,463.46L229.43,461.66L231.23,463.46L229.43,465.26ZM232.97,463.46L234.78,461.66L236.58,463.46L234.78,465.26ZM238.32,463.46L240.12,461.66L241.93,463.46L240.12,465.26ZM243.67,463.46L245.47,461.66L247.28,463.46L245.47,465.26ZM249.02,463.46L250.82,461.66L252.62,463.46L250.82,465.26ZM254.38,463.46L256.18,461.66L257.98,463.46L256.18,465.26ZM259.72,463.46L261.52,461.66L263.32,463.46L261.52,465.26ZM265.07,463.46L266.88,461.66L268.68,463.46L266.88,465.26ZM270.43,463.46L272.23,461.66L274.03,463.46L272.23,465.26ZM275.77,463.46L277.57,461.66L279.38,463.46L277.57,465.26ZM281.12,463.46L282.92,461.66L284.72,463.46L282.92,465.26ZM286.47,463.46L288.27,461.66L290.07,463.46L288.27,465.26ZM291.82,463.46L293.62,461.66L295.43,463.46L293.62,465.26ZM297.18,463.46L298.98,461.66L300.78,463.46L298.98,465.26ZM302.52,463.46L304.32,461.66L306.12,463.46L304.32,465.26ZM307.87,463.46L309.67,461.66L311.47,463.46L309.67,465.26ZM313.22,463.46L315.02,461.66L316.82,463.46L315.02,465.26ZM318.57,463.46L320.38,461.66L322.18,463.46L320.38,465.26ZM323.93,463.46L325.73,461.66L327.53,463.46L325.73,465.26ZM329.27,463.46L331.07,461.66L332.88,463.46L331.07,465.26ZM334.62,463.46L336.42,461.66L338.22,463.46L336.42,465.26ZM339.97,463.46L341.77,461.66L343.57,463.46L341.77,465.26ZM345.32,463.46L347.12,461.66L348.93,463.46L347.12,465.26ZM350.68,463.46L352.48,461.66L354.28,463.46L352.48,465.26ZM356.02,463.46L357.82,461.66L359.62,463.46L357.82,465.26ZM361.37,463.46L363.17,461.66L364.97,463.46L363.17,465.26ZM366.72,463.46L368.52,461.66L370.32,463.46L368.52,465.26ZM372.07,463.46L373.88,461.66L375.68,463.46L373.88,465.26ZM377.43,463.46L379.23,461.66L381.03,463.46L379.23,465.26ZM382.77,463.46L384.57,461.66L386.38,463.46L384.57,465.26ZM388.12,463.46L389.92,461.66L391.72,463.46L389.92,465.26ZM393.47,463.46L395.27,461.66L397.07,463.46L395.27,465.26ZM398.82,463.46L400.62,461.66L402.43,463.46L400.62,465.26ZM404.18,463.46L405.98,461.66L407.78,463.46L405.98,465.26ZM409.52,463.46L411.32,461.66L413.12,463.46L411.32,465.26ZM414.87,463.46L416.67,461.66L418.47,463.46L416.67,465.26ZM420.22,463.46L422.02,461.66L423.82,463.46L422.02,465.26ZM425.57,463.46L427.38,461.66L429.18,463.46L427.38,465.26ZM430.93,463.46L432.73,461.66L434.53,463.46L432.73,465.26ZM436.27,463.46L438.07,461.66L439.87,463.46L438.07,465.26ZM441.62,463.46L443.42,461.66L445.22,463.46L443.42,465.26ZM446.97,463.46L448.77,461.66L450.57,463.46L448.77,465.26ZM452.32,463.46L454.12,461.66L455.93,463.46L454.12,465.26ZM134.00,466.23L135.80,464.43L137.60,466.23L135.80,468.03ZM139.35,466.23L141.15,464.43L142.95,466.23L141.15,468.03ZM144.70,466.23L146.50,464.43L148.30,466.23L146.50,468.03ZM150.05,466.23L151.85,464.43L153.65,466.23L151.85,468.03ZM155.40,466.23L157.20,464.43L159.00,466.23L157.20,468.03ZM160.75,466.23L162.55,464.43L164.35,466.23L162.55,468.03ZM166.10,466.23L167.90,464.43L169.70,466.23L167.90,468.03ZM171.45,466.23L173.25,464.43L175.05,466.23L173.25,468.03ZM176.80,466.23L178.60,464.43L180.40,466.23L178.60,468.03ZM182.15,466.23L183.95,464.43L185.75,466.23L183.95,468.03ZM187.50,466.23L189.30,464.43L191.10,466.23L189.30,468.03ZM192.85,466.23L194.65,464.43L196.45,466.23L194.65,468.03ZM198.20,466.23L200.00,464.43L201.80,466.23L200.00,468.03ZM203.55,466.23L205.35,464.43L207.15,466.23L205.35,468.03ZM208.90,466.23L210.70,464.43L212.50,466.23L210.70,468.03ZM214.25,466.23L216.05,464.43L217.85,466.23L216.05,468.03ZM219.60,466.23L221.40,464.43L223.20,466.23L221.40,468.03ZM224.95,466.23L226.75,464.43L228.55,466.23L226.75,468.03ZM230.30,466.23L232.10,464.43L233.90,466.23L232.10,468.03ZM235.65,466.23L237.45,464.43L239.25,466.23L237.45,468.03ZM241.00,466.23L242.80,464.43L244.60,466.23L242.80,468.03ZM246.35,466.23L248.15,464.43L249.95,466.23L248.15,468.03ZM251.70,466.23L253.50,464.43L255.30,466.23L253.50,468.03ZM257.05,466.23L258.85,464.43L260.65,466.23L258.85,468.03ZM262.40,466.23L264.20,464.43L266.00,466.23L264.20,468.03ZM267.75,466.23L269.55,464.43L271.35,466.23L269.55,468.03ZM273.10,466.23L274.90,464.43L276.70,466.23L274.90,468.03ZM278.45,466.23L280.25,464.43L282.05,466.23L280.25,468.03ZM283.80,466.23L285.60,464.43L287.40,466.23L285.60,468.03ZM289.15,466.23L290.95,464.43L292.75,466.23L290.95,468.03ZM294.50,466.23L296.30,464.43L298.10,466.23L296.30,468.03ZM299.85,466.23L301.65,464.43L303.45,466.23L301.65,468.03ZM305.20,466.23L307.00,464.43L308.80,466.23L307.00,468.03ZM310.55,466.23L312.35,464.43L314.15,466.23L312.35,468.03ZM315.90,466.23L317.70,464.43L319.50,466.23L317.70,468.03ZM321.25,466.23L323.05,464.43L324.85,466.23L323.05,468.03ZM326.60,466.23L328.40,464.43L330.20,466.23L328.40,468.03ZM331.95,466.23L333.75,464.43L335.55,466.23L333.75,468.03ZM337.30,466.23L339.10,464.43L340.90,466.23L339.10,468.03ZM342.65,466.23L344.45,464.43L346.25,466.23L344.45,468.03ZM348.00,466.23L349.80,464.43L351.60,466.23L349.80,468.03ZM353.35,466.23L355.15,464.43L356.95,466.23L355.15,468.03ZM358.70,466.23L360.50,464.43L362.30,466.23L360.50,468.03ZM364.05,466.23L365.85,464.43L367.65,466.23L365.85,468.03ZM369.40,466.23L371.20,464.43L373.00,466.23L371.20,468.03ZM374.75,466.23L376.55,464.43L378.35,466.23L376.55,468.03ZM380.10,466.23L381.90,464.43L383.70,466.23L381.90,468.03ZM385.45,466.23L387.25,464.43L389.05,466.23L387.25,468.03ZM390.80,466.23L392.60,464.43L394.40,466.23L392.60,468.03ZM396.15,466.23L397.95,464.43L399.75,466.23L397.95,468.03ZM401.50,466.23L403.30,464.43L405.10,466.23L403.30,468.03ZM406.85,466.23L408.65,464.43L410.45,466.23L408.65,468.03ZM412.20,466.23L414.00,464.43L415.80,466.23L414.00,468.03ZM417.55,466.23L419.35,464.43L421.15,466.23L419.35,468.03ZM422.90,466.23L424.70,464.43L426.50,466.23L424.70,468.03ZM428.25,466.23L430.05,464.43L431.85,466.23L430.05,468.03ZM433.60,466.23L435.40,464.43L437.20,466.23L435.40,468.03ZM438.95,466.23L440.75,464.43L442.55,466.23L440.75,468.03ZM444.30,466.23L446.10,464.43L447.90,466.23L446.10,468.03ZM449.65,466.23L451.45,464.43L453.25,466.23L451.45,468.03ZM455.00,466.23L456.80,464.43L458.60,466.23L456.80,468.03ZM131.32,469.00L133.12,467.20L134.93,469.00L133.12,470.80ZM136.68,469.00L138.48,467.20L140.28,469.00L138.48,470.80ZM142.03,469.00L143.83,467.20L145.63,469.00L143.83,470.80ZM147.38,469.00L149.18,467.20L150.98,469.00L149.18,470.80ZM152.72,469.00L154.53,467.20L156.33,469.00L154.53,470.80ZM158.07,469.00L159.88,467.20L161.68,469.00L159.88,470.80ZM163.42,469.00L165.22,467.20L167.03,469.00L165.22,470.80ZM168.77,469.00L170.57,467.20L172.38,469.00L170.57,470.80ZM174.12,469.00L175.93,467.20L177.73,469.00L175.93,470.80ZM179.47,469.00L181.28,467.20L183.08,469.00L181.28,470.80ZM184.82,469.00L186.62,467.20L188.43,469.00L186.62,470.80ZM190.17,469.00L191.97,467.20L193.78,469.00L191.97,470.80ZM195.52,469.00L197.32,467.20L199.12,469.00L197.32,470.80ZM200.88,469.00L202.68,467.20L204.48,469.00L202.68,470.80ZM206.22,469.00L208.03,467.20L209.83,469.00L208.03,470.80ZM211.57,469.00L213.38,467.20L215.18,469.00L213.38,470.80ZM216.92,469.00L218.72,467.20L220.53,469.00L218.72,470.80ZM222.27,469.00L224.07,467.20L225.88,469.00L224.07,470.80ZM227.62,469.00L229.43,467.20L231.23,469.00L229.43,470.80ZM232.97,469.00L234.78,467.20L236.58,469.00L234.78,470.80ZM238.32,469.00L240.12,467.20L241.93,469.00L240.12,470.80ZM243.67,469.00L245.47,467.20L247.28,469.00L245.47,470.80ZM249.02,469.00L250.82,467.20L252.62,469.00L250.82,470.80ZM254.38,469.00L256.18,467.20L257.98,469.00L256.18,470.80ZM259.72,469.00L261.52,467.20L263.32,469.00L261.52,470.80ZM265.07,469.00L266.88,467.20L268.68,469.00L266.88,470.80ZM270.43,469.00L272.23,467.20L274.03,469.00L272.23,470.80ZM275.77,469.00L277.57,467.20L279.38,469.00L277.57,470.80ZM281.12,469.00L282.92,467.20L284.72,469.00L282.92,470.80ZM286.47,469.00L288.27,467.20L290.07,469.00L288.27,470.80ZM291.82,469.00L293.62,467.20L295.43,469.00L293.62,470.80ZM297.18,469.00L298.98,467.20L300.78,469.00L298.98,470.80ZM302.52,469.00L304.32,467.20L306.12,469.00L304.32,470.80ZM307.87,469.00L309.67,467.20L311.47,469.00L309.67,470.80ZM313.22,469.00L315.02,467.20L316.82,469.00L315.02,470.80ZM318.57,469.00L320.38,467.20L322.18,469.00L320.38,470.80ZM323.93,469.00L325.73,467.20L327.53,469.00L325.73,470.80ZM329.27,469.00L331.07,467.20L332.88,469.00L331.07,470.80ZM334.62,469.00L336.42,467.20L338.22,469.00L336.42,470.80ZM339.97,469.00L341.77,467.20L343.57,469.00L341.77,470.80ZM345.32,469.00L347.12,467.20L348.93,469.00L347.12,470.80ZM350.68,469.00L352.48,467.20L354.28,469.00L352.48,470.80ZM356.02,469.00L357.82,467.20L359.62,469.00L357.82,470.80ZM361.37,469.00L363.17,467.20L364.97,469.00L363.17,470.80ZM366.72,469.00L368.52,467.20L370.32,469.00L368.52,470.80ZM372.07,469.00L373.88,467.20L375.68,469.00L373.88,470.80ZM377.43,469.00L379.23,467.20L381.03,469.00L379.23,470.80ZM382.77,469.00L384.57,467.20L386.38,469.00L384.57,470.80ZM388.12,469.00L389.92,467.20L391.72,469.00L389.92,470.80ZM393.47,469.00L395.27,467.20L397.07,469.00L395.27,470.80ZM398.82,469.00L400.62,467.20L402.43,469.00L400.62,470.80ZM404.18,469.00L405.98,467.20L407.78,469.00L405.98,470.80ZM409.52,469.00L411.32,467.20L413.12,469.00L411.32,470.80ZM414.87,469.00L416.67,467.20L418.47,469.00L416.67,470.80ZM420.22,469.00L422.02,467.20L423.82,469.00L422.02,470.80ZM425.57,469.00L427.38,467.20L429.18,469.00L427.38,470.80ZM430.93,469.00L432.73,467.20L434.53,469.00L432.73,470.80ZM436.27,469.00L438.07,467.20L439.87,469.00L438.07,470.80ZM441.62,469.00L443.42,467.20L445.22,469.00L443.42,470.80ZM446.97,469.00L448.77,467.20L450.57,469.00L448.77,470.80ZM452.32,469.00L454.12,467.20L455.93,469.00L454.12,470.80Z" clip-path="url(#c18)" fill="#fff" stroke="none"/>
<path d="M142.6,455.2 L447.7,455.2 L447.7,463.6 L142.6,463.6Z" fill="none" stroke="#2c2c2c" stroke-width="1.2" stroke-linejoin="round"/>
<path d="M285.4,455.2 L285.4,463.6 L305.3,463.6 L305.3,455.2Z" fill="#fff" stroke="#2c2c2c" stroke-width="0.9" stroke-linejoin="round" />
<line x1="285.4" y1="456.4" x2="305.3" y2="456.4" stroke="#2c2c2c" stroke-width="0.8"/>
<line x1="285.4" y1="459.2" x2="305.3" y2="459.2" stroke="#2c2c2c" stroke-width="0.8"/>
<path d="M142.6,464.2 L204.3,464.2 L204.3,474.0 C204.6,475.2 204.6,478.8 206.0,481.0 C207.4,483.2 208.7,484.2 213.0,487.0 C217.3,489.8 225.8,494.2 232.0,497.5 C238.2,500.8 246.2,504.4 250.0,506.5 C253.8,508.6 254.2,509.4 255.0,510.0 L255.0,561.0 C254.0,560.5 251.7,559.3 249.2,558.3 C246.7,557.3 243.4,555.6 240.0,555.0 C236.6,554.4 234.2,553.6 229.0,554.5 C223.8,555.4 217.1,557.5 208.6,560.6 C200.1,563.7 186.1,570.0 178.2,573.0 C170.3,576.0 164.0,577.8 161.2,578.8 L94.5,578.8 L94.5,545.2 L96.3,543.4 L96.3,494.4 L122.6,494.4 L122.6,553.0 C123.0,554.2 123.6,558.3 125.0,560.0 C126.4,561.7 127.3,562.1 131.0,563.2 C134.7,564.3 141.8,565.6 147.0,566.5 C152.2,567.4 158.0,568.5 162.0,568.5 C166.0,568.5 167.2,567.9 171.0,566.3 C174.8,564.7 178.7,561.6 185.0,558.8 C191.3,556.0 202.4,551.8 208.6,549.4 C214.8,547.0 218.5,546.6 222.2,544.3 C225.9,542.0 228.6,539.2 230.6,535.8 C232.6,532.4 234.0,527.7 234.0,524.0 C234.0,520.3 233.3,517.5 230.6,513.8 C227.9,510.1 222.2,505.4 218.0,502.0 C213.8,498.6 209.6,495.9 205.2,493.5 C200.8,491.1 193.9,488.4 191.7,487.4 L142.6,487.3Z" fill="#fff" stroke="none"/>
<clipPath id="c19"><path d="M142.6,464.2 L204.3,464.2 L204.3,474.0 C204.6,475.2 204.6,478.8 206.0,481.0 C207.4,483.2 208.7,484.2 213.0,487.0 C217.3,489.8 225.8,494.2 232.0,497.5 C238.2,500.8 246.2,504.4 250.0,506.5 C253.8,508.6 254.2,509.4 255.0,510.0 L255.0,561.0 C254.0,560.5 251.7,559.3 249.2,558.3 C246.7,557.3 243.4,555.6 240.0,555.0 C236.6,554.4 234.2,553.6 229.0,554.5 C223.8,555.4 217.1,557.5 208.6,560.6 C200.1,563.7 186.1,570.0 178.2,573.0 C170.3,576.0 164.0,577.8 161.2,578.8 L94.5,578.8 L94.5,545.2 L96.3,543.4 L96.3,494.4 L122.6,494.4 L122.6,553.0 C123.0,554.2 123.6,558.3 125.0,560.0 C126.4,561.7 127.3,562.1 131.0,563.2 C134.7,564.3 141.8,565.6 147.0,566.5 C152.2,567.4 158.0,568.5 162.0,568.5 C166.0,568.5 167.2,567.9 171.0,566.3 C174.8,564.7 178.7,561.6 185.0,558.8 C191.3,556.0 202.4,551.8 208.6,549.4 C214.8,547.0 218.5,546.6 222.2,544.3 C225.9,542.0 228.6,539.2 230.6,535.8 C232.6,532.4 234.0,527.7 234.0,524.0 C234.0,520.3 233.3,517.5 230.6,513.8 C227.9,510.1 222.2,505.4 218.0,502.0 C213.8,498.6 209.6,495.9 205.2,493.5 C200.8,491.1 193.9,488.4 191.7,487.4 L142.6,487.3Z"/></clipPath>
<path d="M252.4,463.2L256.0,467.0M245.5,463.2L256.0,474.5M238.6,463.2L256.0,481.9M231.7,463.2L256.0,489.3M224.8,463.2L256.0,496.7M217.9,463.2L256.0,504.1M211.0,463.2L256.0,511.5M204.1,463.2L256.0,518.9M197.2,463.2L256.0,526.3M190.3,463.2L256.0,533.7M183.4,463.2L256.0,541.1M176.5,463.2L256.0,548.5M169.6,463.2L256.0,555.9M162.6,463.2L256.0,563.3M155.7,463.2L256.0,570.7M148.8,463.2L256.0,578.1M141.9,463.2L250.7,579.8M135.0,463.2L243.8,579.8M128.1,463.2L236.9,579.8M121.2,463.2L229.9,579.8M114.3,463.2L223.0,579.8M107.4,463.2L216.1,579.8M100.5,463.2L209.2,579.8M93.6,463.2L202.3,579.8M93.5,470.5L195.4,579.8M93.5,477.9L188.5,579.8M93.5,485.3L181.6,579.8M93.5,492.7L174.7,579.8M93.5,500.1L167.8,579.8M93.5,507.5L160.9,579.8M93.5,514.9L154.0,579.8M93.5,522.3L147.1,579.8M93.5,529.7L140.2,579.8M93.5,537.1L133.3,579.8M93.5,544.5L126.4,579.8M93.5,552.0L119.5,579.8M93.5,559.4L112.6,579.8M93.5,566.8L105.7,579.8M93.5,574.2L98.8,579.8" clip-path="url(#c19)" fill="none" stroke="#2c2c2c" stroke-width="1.25"/>
<path d="M142.6,464.2 L204.3,464.2 L204.3,474.0 C204.6,475.2 204.6,478.8 206.0,481.0 C207.4,483.2 208.7,484.2 213.0,487.0 C217.3,489.8 225.8,494.2 232.0,497.5 C238.2,500.8 246.2,504.4 250.0,506.5 C253.8,508.6 254.2,509.4 255.0,510.0 L255.0,561.0 C254.0,560.5 251.7,559.3 249.2,558.3 C246.7,557.3 243.4,555.6 240.0,555.0 C236.6,554.4 234.2,553.6 229.0,554.5 C223.8,555.4 217.1,557.5 208.6,560.6 C200.1,563.7 186.1,570.0 178.2,573.0 C170.3,576.0 164.0,577.8 161.2,578.8 L94.5,578.8 L94.5,545.2 L96.3,543.4 L96.3,494.4 L122.6,494.4 L122.6,553.0 C123.0,554.2 123.6,558.3 125.0,560.0 C126.4,561.7 127.3,562.1 131.0,563.2 C134.7,564.3 141.8,565.6 147.0,566.5 C152.2,567.4 158.0,568.5 162.0,568.5 C166.0,568.5 167.2,567.9 171.0,566.3 C174.8,564.7 178.7,561.6 185.0,558.8 C191.3,556.0 202.4,551.8 208.6,549.4 C214.8,547.0 218.5,546.6 222.2,544.3 C225.9,542.0 228.6,539.2 230.6,535.8 C232.6,532.4 234.0,527.7 234.0,524.0 C234.0,520.3 233.3,517.5 230.6,513.8 C227.9,510.1 222.2,505.4 218.0,502.0 C213.8,498.6 209.6,495.9 205.2,493.5 C200.8,491.1 193.9,488.4 191.7,487.4 L142.6,487.3Z" fill="none" stroke="#2c2c2c" stroke-width="1.4" stroke-linejoin="round"/>
<path d="M94.5,659.4 L153.0,659.4 C154.4,658.7 158.4,656.9 161.2,655.4 C164.0,653.9 165.4,653.1 170.0,650.5 C174.6,647.9 182.3,643.6 188.5,640.0 C194.7,636.4 201.1,632.4 207.3,628.8 C213.5,625.2 221.2,620.9 225.8,618.5 C230.4,616.1 232.5,615.1 235.0,614.3 C237.5,613.4 239.8,613.5 240.8,613.4 L255.2,613.4 L255.2,632.6 L247.7,625.8 L237.3,625.8 C236.2,626.1 235.4,625.3 230.4,627.7 C225.4,630.1 213.3,637.1 207.3,640.4 C201.3,643.7 197.9,645.2 194.6,647.4 C191.2,649.6 188.8,651.2 187.2,653.5 C185.6,655.8 184.8,658.4 184.8,660.9 C184.8,663.4 185.6,666.1 187.2,668.3 C188.8,670.4 191.3,671.9 194.6,673.8 C197.9,675.6 202.8,677.8 206.9,679.4 C211.0,681.0 215.9,682.3 219.2,683.7 C222.5,685.1 224.3,686.2 226.6,688.0 C228.9,689.8 231.4,692.0 232.8,694.2 C234.2,696.5 234.7,698.4 235.2,701.5 C235.7,704.6 235.7,710.8 235.8,712.6 L236.0,734.0 L205.7,734.0 L205.7,710.0 L219.2,710.0 C219.8,709.6 222.0,708.9 222.9,707.7 C223.8,706.5 224.8,704.4 224.8,702.8 C224.8,701.1 224.0,699.2 222.9,697.8 C221.8,696.4 220.7,695.4 218.0,694.2 C215.3,693.0 210.8,692.0 206.9,690.5 C203.0,689.0 198.7,687.4 194.6,685.5 C190.5,683.6 186.4,681.8 182.3,679.4 C178.2,677.0 173.5,673.1 170.0,671.4 C166.5,669.7 165.4,669.2 161.2,669.2 C157.0,669.2 150.0,670.7 145.0,671.5 C140.0,672.3 134.5,672.6 131.2,673.8 C127.9,675.0 126.8,676.6 125.4,678.5 C124.0,680.4 123.2,684.2 122.8,685.4 L122.8,744.5 L96.3,744.5 L96.3,694.2 L94.5,692.4Z" fill="#fff" stroke="none"/>
<clipPath id="c20"><path d="M94.5,659.4 L153.0,659.4 C154.4,658.7 158.4,656.9 161.2,655.4 C164.0,653.9 165.4,653.1 170.0,650.5 C174.6,647.9 182.3,643.6 188.5,640.0 C194.7,636.4 201.1,632.4 207.3,628.8 C213.5,625.2 221.2,620.9 225.8,618.5 C230.4,616.1 232.5,615.1 235.0,614.3 C237.5,613.4 239.8,613.5 240.8,613.4 L255.2,613.4 L255.2,632.6 L247.7,625.8 L237.3,625.8 C236.2,626.1 235.4,625.3 230.4,627.7 C225.4,630.1 213.3,637.1 207.3,640.4 C201.3,643.7 197.9,645.2 194.6,647.4 C191.2,649.6 188.8,651.2 187.2,653.5 C185.6,655.8 184.8,658.4 184.8,660.9 C184.8,663.4 185.6,666.1 187.2,668.3 C188.8,670.4 191.3,671.9 194.6,673.8 C197.9,675.6 202.8,677.8 206.9,679.4 C211.0,681.0 215.9,682.3 219.2,683.7 C222.5,685.1 224.3,686.2 226.6,688.0 C228.9,689.8 231.4,692.0 232.8,694.2 C234.2,696.5 234.7,698.4 235.2,701.5 C235.7,704.6 235.7,710.8 235.8,712.6 L236.0,734.0 L205.7,734.0 L205.7,710.0 L219.2,710.0 C219.8,709.6 222.0,708.9 222.9,707.7 C223.8,706.5 224.8,704.4 224.8,702.8 C224.8,701.1 224.0,699.2 222.9,697.8 C221.8,696.4 220.7,695.4 218.0,694.2 C215.3,693.0 210.8,692.0 206.9,690.5 C203.0,689.0 198.7,687.4 194.6,685.5 C190.5,683.6 186.4,681.8 182.3,679.4 C178.2,677.0 173.5,673.1 170.0,671.4 C166.5,669.7 165.4,669.2 161.2,669.2 C157.0,669.2 150.0,670.7 145.0,671.5 C140.0,672.3 134.5,672.6 131.2,673.8 C127.9,675.0 126.8,676.6 125.4,678.5 C124.0,680.4 123.2,684.2 122.8,685.4 L122.8,744.5 L96.3,744.5 L96.3,694.2 L94.5,692.4Z"/></clipPath>
<path d="M253.4,612.4L256.2,615.4M246.5,612.4L256.2,622.8M239.6,612.4L256.2,630.2M232.7,612.4L256.2,637.6M225.8,612.4L256.2,645.0M218.9,612.4L256.2,652.4M212.0,612.4L256.2,659.8M205.1,612.4L256.2,667.2M198.2,612.4L256.2,674.6M191.3,612.4L256.2,682.0M184.4,612.4L256.2,689.4M177.5,612.4L256.2,696.8M170.6,612.4L256.2,704.2M163.7,612.4L256.2,711.6M156.8,612.4L256.2,719.0M149.9,612.4L256.2,726.4M143.0,612.4L256.2,733.8M136.1,612.4L256.2,741.2M129.2,612.4L253.3,745.5M122.2,612.4L246.4,745.5M115.3,612.4L239.5,745.5M108.4,612.4L232.6,745.5M101.5,612.4L225.6,745.5M94.6,612.4L218.7,745.5M93.5,618.6L211.8,745.5M93.5,626.0L204.9,745.5M93.5,633.4L198.0,745.5M93.5,640.8L191.1,745.5M93.5,648.2L184.2,745.5M93.5,655.6L177.3,745.5M93.5,663.0L170.4,745.5M93.5,670.4L163.5,745.5M93.5,677.8L156.6,745.5M93.5,685.2L149.7,745.5M93.5,692.6L142.8,745.5M93.5,700.0L135.9,745.5M93.5,707.5L129.0,745.5M93.5,714.9L122.1,745.5M93.5,722.3L115.2,745.5M93.5,729.7L108.3,745.5M93.5,737.1L101.4,745.5M93.5,744.5L94.5,745.5" clip-path="url(#c20)" fill="none" stroke="#2c2c2c" stroke-width="1.25"/>
<path d="M94.5,659.4 L153.0,659.4 C154.4,658.7 158.4,656.9 161.2,655.4 C164.0,653.9 165.4,653.1 170.0,650.5 C174.6,647.9 182.3,643.6 188.5,640.0 C194.7,636.4 201.1,632.4 207.3,628.8 C213.5,625.2 221.2,620.9 225.8,618.5 C230.4,616.1 232.5,615.1 235.0,614.3 C237.5,613.4 239.8,613.5 240.8,613.4 L255.2,613.4 L255.2,632.6 L247.7,625.8 L237.3,625.8 C236.2,626.1 235.4,625.3 230.4,627.7 C225.4,630.1 213.3,637.1 207.3,640.4 C201.3,643.7 197.9,645.2 194.6,647.4 C191.2,649.6 188.8,651.2 187.2,653.5 C185.6,655.8 184.8,658.4 184.8,660.9 C184.8,663.4 185.6,666.1 187.2,668.3 C188.8,670.4 191.3,671.9 194.6,673.8 C197.9,675.6 202.8,677.8 206.9,679.4 C211.0,681.0 215.9,682.3 219.2,683.7 C222.5,685.1 224.3,686.2 226.6,688.0 C228.9,689.8 231.4,692.0 232.8,694.2 C234.2,696.5 234.7,698.4 235.2,701.5 C235.7,704.6 235.7,710.8 235.8,712.6 L236.0,734.0 L205.7,734.0 L205.7,710.0 L219.2,710.0 C219.8,709.6 222.0,708.9 222.9,707.7 C223.8,706.5 224.8,704.4 224.8,702.8 C224.8,701.1 224.0,699.2 222.9,697.8 C221.8,696.4 220.7,695.4 218.0,694.2 C215.3,693.0 210.8,692.0 206.9,690.5 C203.0,689.0 198.7,687.4 194.6,685.5 C190.5,683.6 186.4,681.8 182.3,679.4 C178.2,677.0 173.5,673.1 170.0,671.4 C166.5,669.7 165.4,669.2 161.2,669.2 C157.0,669.2 150.0,670.7 145.0,671.5 C140.0,672.3 134.5,672.6 131.2,673.8 C127.9,675.0 126.8,676.6 125.4,678.5 C124.0,680.4 123.2,684.2 122.8,685.4 L122.8,744.5 L96.3,744.5 L96.3,694.2 L94.5,692.4Z" fill="none" stroke="#2c2c2c" stroke-width="1.4" stroke-linejoin="round"/>
<line x1="237.3" y1="624.6" x2="247.0" y2="624.6" stroke="#2c2c2c" stroke-width="0.7"/>
<path d="M447.8,464.2 L447.8,486.8 L402.0,486.8 C400.0,487.3 394.0,488.1 390.0,490.0 C386.0,491.9 380.7,495.7 378.0,498.0 C375.3,500.3 374.5,501.9 374.0,504.0 C373.5,506.1 373.7,506.6 375.0,510.3 C376.3,514.0 379.2,520.0 382.0,526.0 C384.8,532.0 389.3,541.2 392.0,546.0 C394.7,550.8 394.3,552.0 398.0,555.0 C401.7,558.0 409.3,561.8 414.0,564.0 C418.7,566.2 422.3,567.3 426.0,568.0 C429.7,568.7 432.0,568.5 436.0,568.0 C440.0,567.5 445.4,566.0 450.0,565.0 C454.6,564.0 460.7,562.9 463.5,562.0 C466.3,561.1 466.2,560.6 467.0,559.6 C467.8,558.6 467.8,556.6 468.0,556.0 L468.0,494.4 L494.1,494.4 L494.1,543.4 L495.9,545.2 L495.9,580.0 L455.0,580.0 C454.2,579.9 453.6,579.1 450.0,579.5 C446.4,579.9 438.0,580.9 433.4,582.3 C428.8,583.7 427.2,585.0 422.3,587.8 C417.4,590.6 410.0,595.6 403.8,599.0 C397.6,602.4 391.5,604.9 385.4,608.0 C379.3,611.1 372.4,614.3 367.0,617.4 C361.6,620.5 355.3,625.1 353.0,626.6 L343.0,626.6 L335.6,632.6 L335.6,613.6 L348.5,613.6 C350.0,613.5 354.6,613.6 357.7,612.8 C360.8,612.0 363.8,610.7 367.0,609.0 C370.2,607.3 374.6,604.9 377.0,602.6 C379.4,600.3 381.1,598.0 381.7,595.2 C382.3,592.4 382.0,589.7 380.8,586.0 C379.6,582.3 376.6,577.5 374.3,573.0 C372.0,568.5 369.5,562.4 367.0,559.2 C364.5,556.0 362.3,554.5 359.5,553.7 C356.7,552.9 353.1,553.8 350.3,554.6 C347.6,555.5 345.4,558.0 343.0,558.8 C340.6,559.6 336.8,559.3 335.6,559.4 L335.6,510.3 C339.3,508.4 351.6,502.6 357.7,499.2 C363.8,495.8 368.6,492.4 372.5,490.0 C376.4,487.6 379.1,486.7 381.4,484.5 C383.7,482.3 385.6,478.2 386.5,477.0 L386.5,464.2Z" fill="#fff" stroke="none"/>
<clipPath id="c21"><path d="M447.8,464.2 L447.8,486.8 L402.0,486.8 C400.0,487.3 394.0,488.1 390.0,490.0 C386.0,491.9 380.7,495.7 378.0,498.0 C375.3,500.3 374.5,501.9 374.0,504.0 C373.5,506.1 373.7,506.6 375.0,510.3 C376.3,514.0 379.2,520.0 382.0,526.0 C384.8,532.0 389.3,541.2 392.0,546.0 C394.7,550.8 394.3,552.0 398.0,555.0 C401.7,558.0 409.3,561.8 414.0,564.0 C418.7,566.2 422.3,567.3 426.0,568.0 C429.7,568.7 432.0,568.5 436.0,568.0 C440.0,567.5 445.4,566.0 450.0,565.0 C454.6,564.0 460.7,562.9 463.5,562.0 C466.3,561.1 466.2,560.6 467.0,559.6 C467.8,558.6 467.8,556.6 468.0,556.0 L468.0,494.4 L494.1,494.4 L494.1,543.4 L495.9,545.2 L495.9,580.0 L455.0,580.0 C454.2,579.9 453.6,579.1 450.0,579.5 C446.4,579.9 438.0,580.9 433.4,582.3 C428.8,583.7 427.2,585.0 422.3,587.8 C417.4,590.6 410.0,595.6 403.8,599.0 C397.6,602.4 391.5,604.9 385.4,608.0 C379.3,611.1 372.4,614.3 367.0,617.4 C361.6,620.5 355.3,625.1 353.0,626.6 L343.0,626.6 L335.6,632.6 L335.6,613.6 L348.5,613.6 C350.0,613.5 354.6,613.6 357.7,612.8 C360.8,612.0 363.8,610.7 367.0,609.0 C370.2,607.3 374.6,604.9 377.0,602.6 C379.4,600.3 381.1,598.0 381.7,595.2 C382.3,592.4 382.0,589.7 380.8,586.0 C379.6,582.3 376.6,577.5 374.3,573.0 C372.0,568.5 369.5,562.4 367.0,559.2 C364.5,556.0 362.3,554.5 359.5,553.7 C356.7,552.9 353.1,553.8 350.3,554.6 C347.6,555.5 345.4,558.0 343.0,558.8 C340.6,559.6 336.8,559.3 335.6,559.4 L335.6,510.3 C339.3,508.4 351.6,502.6 357.7,499.2 C363.8,495.8 368.6,492.4 372.5,490.0 C376.4,487.6 379.1,486.7 381.4,484.5 C383.7,482.3 385.6,478.2 386.5,477.0 L386.5,464.2Z"/></clipPath>
<path d="M494.1,463.2L496.9,466.2M487.2,463.2L496.9,473.6M480.3,463.2L496.9,481.0M473.4,463.2L496.9,488.4M466.5,463.2L496.9,495.8M459.6,463.2L496.9,503.2M452.7,463.2L496.9,510.6M445.8,463.2L496.9,518.1M438.8,463.2L496.9,525.5M431.9,463.2L496.9,532.9M425.0,463.2L496.9,540.3M418.1,463.2L496.9,547.7M411.2,463.2L496.9,555.1M404.3,463.2L496.9,562.5M397.4,463.2L496.9,569.9M390.5,463.2L496.9,577.3M383.6,463.2L496.9,584.7M376.7,463.2L496.9,592.1M369.8,463.2L496.9,599.5M362.9,463.2L496.9,606.9M356.0,463.2L496.9,614.3M349.1,463.2L496.9,621.7M342.2,463.2L496.9,629.1M335.3,463.2L494.2,633.6M334.6,469.9L487.3,633.6M334.6,477.3L480.4,633.6M334.6,484.7L473.5,633.6M334.6,492.1L466.6,633.6M334.6,499.5L459.6,633.6M334.6,506.9L452.7,633.6M334.6,514.3L445.8,633.6M334.6,521.7L438.9,633.6M334.6,529.1L432.0,633.6M334.6,536.5L425.1,633.6M334.6,543.9L418.2,633.6M334.6,551.3L411.3,633.6M334.6,558.7L404.4,633.6M334.6,566.1L397.5,633.6M334.6,573.6L390.6,633.6M334.6,581.0L383.7,633.6M334.6,588.4L376.8,633.6M334.6,595.8L369.9,633.6M334.6,603.2L363.0,633.6M334.6,610.6L356.1,633.6M334.6,618.0L349.2,633.6M334.6,625.4L342.3,633.6M334.6,632.8L335.4,633.6" clip-path="url(#c21)" fill="none" stroke="#2c2c2c" stroke-width="1.25"/>
<path d="M447.8,464.2 L447.8,486.8 L402.0,486.8 C400.0,487.3 394.0,488.1 390.0,490.0 C386.0,491.9 380.7,495.7 378.0,498.0 C375.3,500.3 374.5,501.9 374.0,504.0 C373.5,506.1 373.7,506.6 375.0,510.3 C376.3,514.0 379.2,520.0 382.0,526.0 C384.8,532.0 389.3,541.2 392.0,546.0 C394.7,550.8 394.3,552.0 398.0,555.0 C401.7,558.0 409.3,561.8 414.0,564.0 C418.7,566.2 422.3,567.3 426.0,568.0 C429.7,568.7 432.0,568.5 436.0,568.0 C440.0,567.5 445.4,566.0 450.0,565.0 C454.6,564.0 460.7,562.9 463.5,562.0 C466.3,561.1 466.2,560.6 467.0,559.6 C467.8,558.6 467.8,556.6 468.0,556.0 L468.0,494.4 L494.1,494.4 L494.1,543.4 L495.9,545.2 L495.9,580.0 L455.0,580.0 C454.2,579.9 453.6,579.1 450.0,579.5 C446.4,579.9 438.0,580.9 433.4,582.3 C428.8,583.7 427.2,585.0 422.3,587.8 C417.4,590.6 410.0,595.6 403.8,599.0 C397.6,602.4 391.5,604.9 385.4,608.0 C379.3,611.1 372.4,614.3 367.0,617.4 C361.6,620.5 355.3,625.1 353.0,626.6 L343.0,626.6 L335.6,632.6 L335.6,613.6 L348.5,613.6 C350.0,613.5 354.6,613.6 357.7,612.8 C360.8,612.0 363.8,610.7 367.0,609.0 C370.2,607.3 374.6,604.9 377.0,602.6 C379.4,600.3 381.1,598.0 381.7,595.2 C382.3,592.4 382.0,589.7 380.8,586.0 C379.6,582.3 376.6,577.5 374.3,573.0 C372.0,568.5 369.5,562.4 367.0,559.2 C364.5,556.0 362.3,554.5 359.5,553.7 C356.7,552.9 353.1,553.8 350.3,554.6 C347.6,555.5 345.4,558.0 343.0,558.8 C340.6,559.6 336.8,559.3 335.6,559.4 L335.6,510.3 C339.3,508.4 351.6,502.6 357.7,499.2 C363.8,495.8 368.6,492.4 372.5,490.0 C376.4,487.6 379.1,486.7 381.4,484.5 C383.7,482.3 385.6,478.2 386.5,477.0 L386.5,464.2Z" fill="none" stroke="#2c2c2c" stroke-width="1.4" stroke-linejoin="round"/>
<line x1="343.5" y1="625.4" x2="353.0" y2="625.4" stroke="#2c2c2c" stroke-width="0.7"/>
<path d="M348.6,506.8 L392.9,584.2 L395.3,582.8 L403.7,597.5 L406.3,596.1 L397.9,581.3 L400.2,580.0 L355.8,502.6Z" fill="#fff" stroke="none"/>
<path d="M348.6,506.8 L392.9,584.2 L395.3,582.8 L403.7,597.5" fill="none" stroke="#2c2c2c" stroke-width="1.15"/>
<path d="M355.8,502.6 L400.2,580.0 L397.9,581.3 L406.3,596.1" fill="none" stroke="#2c2c2c" stroke-width="1.15"/>
<line x1="392.9" y1="584.2" x2="400.2" y2="580.0" stroke="#2c2c2c" stroke-width="0.8"/>
<line x1="349.6" y1="500.1" x2="352.2" y2="504.7" stroke="#2c2c2c" stroke-width="0.8"/>
<line x1="397.6" y1="583.9" x2="407.6" y2="601.4" stroke="#2c2c2c" stroke-width="0.8"/>
<line x1="352.2" y1="504.7" x2="375.4" y2="545.2" stroke="#2c2c2c" stroke-width="1.0"/>
<line x1="363.5" y1="514.4" x2="381.8" y2="546.7" stroke="#2c2c2c" stroke-width="1.0"/>
<line x1="372.5" y1="541.5" x2="390.5" y2="573.0" stroke="#2c2c2c" stroke-width="1.0"/>
<path d="M495.9,659.8 L430.5,659.8 C429.1,660.0 425.1,660.1 421.8,660.9 C418.6,661.7 414.6,663.1 411.0,664.8 C407.4,666.5 405.0,669.0 400.3,671.2 C395.6,673.5 388.4,676.1 383.0,678.3 C377.6,680.5 371.8,682.3 368.0,684.2 C364.2,686.1 362.5,687.4 360.5,689.5 C358.5,691.6 357.2,693.8 356.2,697.0 C355.2,700.2 354.9,707.0 354.6,709.0 L354.4,734.0 L384.6,734.0 L384.6,709.6 L369.2,709.6 C369.0,708.0 367.7,702.8 368.0,700.3 C368.3,697.8 369.4,696.5 371.2,694.9 C373.0,693.3 375.0,692.2 378.8,690.6 C382.6,689.0 388.8,687.4 393.8,685.2 C398.8,683.1 404.2,679.9 408.9,677.7 C413.6,675.5 418.2,673.1 421.8,671.9 C425.4,670.6 426.2,670.1 430.5,670.2 C434.8,670.3 442.5,671.6 447.7,672.7 C452.9,673.8 458.7,675.5 461.7,676.6 C464.7,677.7 464.8,678.0 465.8,679.2 C466.9,680.4 467.6,683.2 468.0,684.0 L468.0,744.5 L494.1,744.5 L494.1,694.2 L495.9,692.4Z" fill="#fff" stroke="none"/>
<clipPath id="c22"><path d="M495.9,659.8 L430.5,659.8 C429.1,660.0 425.1,660.1 421.8,660.9 C418.6,661.7 414.6,663.1 411.0,664.8 C407.4,666.5 405.0,669.0 400.3,671.2 C395.6,673.5 388.4,676.1 383.0,678.3 C377.6,680.5 371.8,682.3 368.0,684.2 C364.2,686.1 362.5,687.4 360.5,689.5 C358.5,691.6 357.2,693.8 356.2,697.0 C355.2,700.2 354.9,707.0 354.6,709.0 L354.4,734.0 L384.6,734.0 L384.6,709.6 L369.2,709.6 C369.0,708.0 367.7,702.8 368.0,700.3 C368.3,697.8 369.4,696.5 371.2,694.9 C373.0,693.3 375.0,692.2 378.8,690.6 C382.6,689.0 388.8,687.4 393.8,685.2 C398.8,683.1 404.2,679.9 408.9,677.7 C413.6,675.5 418.2,673.1 421.8,671.9 C425.4,670.6 426.2,670.1 430.5,670.2 C434.8,670.3 442.5,671.6 447.7,672.7 C452.9,673.8 458.7,675.5 461.7,676.6 C464.7,677.7 464.8,678.0 465.8,679.2 C466.9,680.4 467.6,683.2 468.0,684.0 L468.0,744.5 L494.1,744.5 L494.1,694.2 L495.9,692.4Z"/></clipPath>
<path d="M490.1,658.8L496.9,666.1M483.1,658.8L496.9,673.5M476.2,658.8L496.9,681.0M469.3,658.8L496.9,688.4M462.4,658.8L496.9,695.8M455.5,658.8L496.9,703.2M448.6,658.8L496.9,710.6M441.7,658.8L496.9,718.0M434.8,658.8L496.9,725.4M427.9,658.8L496.9,732.8M421.0,658.8L496.9,740.2M414.1,658.8L494.9,745.5M407.2,658.8L488.0,745.5M400.3,658.8L481.1,745.5M393.4,658.8L474.2,745.5M386.5,658.8L467.3,745.5M379.6,658.8L460.4,745.5M372.7,658.8L453.5,745.5M365.8,658.8L446.6,745.5M358.9,658.8L439.7,745.5M353.4,660.4L432.8,745.5M353.4,667.8L425.9,745.5M353.4,675.2L419.0,745.5M353.4,682.6L412.1,745.5M353.4,690.0L405.2,745.5M353.4,697.4L398.3,745.5M353.4,704.8L391.4,745.5M353.4,712.2L384.5,745.5M353.4,719.6L377.6,745.5M353.4,727.0L370.7,745.5M353.4,734.4L363.7,745.5M353.4,741.8L356.8,745.5" clip-path="url(#c22)" fill="none" stroke="#2c2c2c" stroke-width="1.25"/>
<path d="M495.9,659.8 L430.5,659.8 C429.1,660.0 425.1,660.1 421.8,660.9 C418.6,661.7 414.6,663.1 411.0,664.8 C407.4,666.5 405.0,669.0 400.3,671.2 C395.6,673.5 388.4,676.1 383.0,678.3 C377.6,680.5 371.8,682.3 368.0,684.2 C364.2,686.1 362.5,687.4 360.5,689.5 C358.5,691.6 357.2,693.8 356.2,697.0 C355.2,700.2 354.9,707.0 354.6,709.0 L354.4,734.0 L384.6,734.0 L384.6,709.6 L369.2,709.6 C369.0,708.0 367.7,702.8 368.0,700.3 C368.3,697.8 369.4,696.5 371.2,694.9 C373.0,693.3 375.0,692.2 378.8,690.6 C382.6,689.0 388.8,687.4 393.8,685.2 C398.8,683.1 404.2,679.9 408.9,677.7 C413.6,675.5 418.2,673.1 421.8,671.9 C425.4,670.6 426.2,670.1 430.5,670.2 C434.8,670.3 442.5,671.6 447.7,672.7 C452.9,673.8 458.7,675.5 461.7,676.6 C464.7,677.7 464.8,678.0 465.8,679.2 C466.9,680.4 467.6,683.2 468.0,684.0 L468.0,744.5 L494.1,744.5 L494.1,694.2 L495.9,692.4Z" fill="none" stroke="#2c2c2c" stroke-width="1.4" stroke-linejoin="round"/>
<path d="M147.4,437.4 L147.4,424.3 Q147.4,421.8 149.9,421.8 L176.1,421.8 Q178.6,421.8 178.6,424.3 L178.6,437.4" fill="#fff" stroke="#2c2c2c" stroke-width="1.35" stroke-linejoin="round" />
<line x1="155.2" y1="421.8" x2="155.2" y2="437.4" stroke="#2c2c2c" stroke-width="1.3"/>
<line x1="170.8" y1="421.8" x2="170.8" y2="437.4" stroke="#2c2c2c" stroke-width="1.3"/>
<path d="M152.6,487.3 L152.6,499 L173.4,499 L173.4,487.3" fill="#fff" stroke="#2c2c2c" stroke-width="1.35" stroke-linejoin="round" />
<path d="M157.4,499 L157.4,503.5 L159.0,505 L167.0,505 L168.6,503.5 L168.6,499" fill="#fff" stroke="#2c2c2c" stroke-width="0.9" stroke-linejoin="round" />
<line x1="157.4" y1="501.5" x2="168.6" y2="501.5" stroke="#2c2c2c" stroke-width="0.7"/>
<line x1="163.0" y1="487.3" x2="163.0" y2="499.0" stroke="#2c2c2c" stroke-width="0.9"/>
<line x1="163.0" y1="418.0" x2="163.0" y2="513.6" stroke="#2c2c2c" stroke-width="0.9"/>
<path d="M412.0,437.4 L412.0,424.3 Q412.0,421.8 414.5,421.8 L440.70000000000005,421.8 Q443.20000000000005,421.8 443.20000000000005,424.3 L443.20000000000005,437.4" fill="#fff" stroke="#2c2c2c" stroke-width="1.35" stroke-linejoin="round" />
<line x1="419.8" y1="421.8" x2="419.8" y2="437.4" stroke="#2c2c2c" stroke-width="1.3"/>
<line x1="435.4" y1="421.8" x2="435.4" y2="437.4" stroke="#2c2c2c" stroke-width="1.3"/>
<path d="M417.20000000000005,487.3 L417.20000000000005,499 L438.0,499 L438.0,487.3" fill="#fff" stroke="#2c2c2c" stroke-width="1.35" stroke-linejoin="round" />
<path d="M422.0,499 L422.0,503.5 L423.6,505 L431.6,505 L433.20000000000005,503.5 L433.20000000000005,499" fill="#fff" stroke="#2c2c2c" stroke-width="0.9" stroke-linejoin="round" />
<line x1="422.0" y1="501.5" x2="433.2" y2="501.5" stroke="#2c2c2c" stroke-width="0.7"/>
<line x1="427.6" y1="487.3" x2="427.6" y2="499.0" stroke="#2c2c2c" stroke-width="0.9"/>
<line x1="427.6" y1="418.0" x2="427.6" y2="513.6" stroke="#2c2c2c" stroke-width="0.9"/>
<path d="M258.5,463.6 L258.5,468.4 Q258.5,470.8 261,470.8 L329.4,470.8 Q331.9,470.8 331.9,468.4 L331.9,463.6Z" fill="#fff" stroke="#2c2c2c" stroke-width="1.35" stroke-linejoin="round" />
<line x1="258.8" y1="469.2" x2="331.6" y2="469.2" stroke="#2c2c2c" stroke-width="0.8"/>
<circle cx="268.8" cy="464.7" r="1.1" fill="#2c2c2c"/>
<line x1="268.8" y1="466.0" x2="268.8" y2="473.2" stroke="#2c2c2c" stroke-width="0.7" stroke-dasharray="3 1.5"/>
<circle cx="277.3" cy="464.7" r="1.1" fill="#2c2c2c"/>
<line x1="277.3" y1="466.0" x2="277.3" y2="473.2" stroke="#2c2c2c" stroke-width="0.7" stroke-dasharray="3 1.5"/>
<circle cx="313.1" cy="464.7" r="1.1" fill="#2c2c2c"/>
<line x1="313.1" y1="466.0" x2="313.1" y2="473.2" stroke="#2c2c2c" stroke-width="0.7" stroke-dasharray="3 1.5"/>
<circle cx="321.6" cy="464.7" r="1.1" fill="#2c2c2c"/>
<line x1="321.6" y1="466.0" x2="321.6" y2="473.2" stroke="#2c2c2c" stroke-width="0.7" stroke-dasharray="3 1.5"/>
<path d="M276,470.8 Q281.8,471 281.8,477 L281.8,501.5 Q281.6,507.2 275.8,507.2 L314.8,507.2 Q309,507.2 308.8,501.5 L308.8,477 Q308.8,471 314.6,470.8Z" fill="#fff" stroke="#2c2c2c" stroke-width="1.35" stroke-linejoin="round" />
<path d="M255.2,507.2 L255.2,559.2 L259.8,565.4 L331.2,565.4 L335.8,559.2 L335.8,507.2Z" fill="#fff" stroke="#2c2c2c" stroke-width="1.35" stroke-linejoin="round" />
<line x1="255.2" y1="559.2" x2="335.8" y2="559.2" stroke="#2c2c2c" stroke-width="0.9"/>
<line x1="255.2" y1="508.7" x2="335.8" y2="508.7" stroke="#2c2c2c" stroke-width="0.8"/>
<rect x="250.5" y="519.4" width="5" height="8.1" fill="#fff" stroke="#2c2c2c" stroke-width="0.8"/>
<rect x="250.7" y="520.5" width="4.3" height="5.5" rx="1.2" fill="#2c2c2c"/>
<rect x="335.6" y="519.4" width="5" height="8.1" fill="#fff" stroke="#2c2c2c" stroke-width="0.8"/>
<rect x="336.1" y="520.5" width="4.3" height="5.5" rx="1.2" fill="#2c2c2c"/>
<rect x="250.5" y="541.5" width="5" height="8.5" fill="#fff" stroke="#2c2c2c" stroke-width="0.8"/>
<rect x="250.7" y="542.6" width="4.3" height="5.9" rx="1.2" fill="#2c2c2c"/>
<rect x="335.6" y="541.5" width="5" height="8.5" fill="#fff" stroke="#2c2c2c" stroke-width="0.8"/>
<rect x="336.1" y="542.6" width="4.3" height="5.9" rx="1.2" fill="#2c2c2c"/>
<line x1="255.2" y1="614.0" x2="335.8" y2="614.0" stroke="#2c2c2c" stroke-width="0.9"/>
<path d="M272.9,565.4 Q273.6,569.6 277,570.2 L277,574.6 L281.3,575.8 L281.3,614 L278.5,615 L278.5,621.5 Q278.2,624.6 275.6,625.8 L268,630.5 L259.2,635.3 L259.2,636.8 L331.4,636.8 L331.4,635.3 L322.6,630.5 L315,625.8 Q312.4,624.6 312.1,621.5 L312.1,615 L309.3,614 L309.3,575.8 L313.6,574.6 L313.6,570.2 Q317,569.6 317.7,565.4Z" fill="#fff" stroke="#2c2c2c" stroke-width="1.35" stroke-linejoin="round" />
<line x1="268.5" y1="629.9" x2="322.1" y2="629.9" stroke="#2c2c2c" stroke-width="0.8"/>
<path d="M240.2,639.3 L241.7,637.8 L348.9,637.8 L350.4,639.3 L350.4,650.3 L348.9,651.8 L347.1,653.6 L319.6,667 L319.6,680.8 L271,680.8 L271,667 L243.5,653.6 L241.7,651.8 L240.2,650.3Z" fill="#fff" stroke="none"/>
<clipPath id="c23"><path d="M240.2,639.3 L241.7,637.8 L348.9,637.8 L350.4,639.3 L350.4,650.3 L348.9,651.8 L347.1,653.6 L319.6,667 L319.6,680.8 L271,680.8 L271,667 L243.5,653.6 L241.7,651.8 L240.2,650.3Z"/></clipPath>
<path d="M347.7,636.8L351.4,640.8M342.8,636.8L351.4,646.0M337.9,636.8L351.4,651.3M332.9,636.8L351.4,656.6M328.0,636.8L351.4,661.9M323.1,636.8L351.4,667.2M318.2,636.8L351.4,672.4M313.3,636.8L351.4,677.7M308.3,636.8L350.3,681.8M303.4,636.8L345.4,681.8M298.5,636.8L340.4,681.8M293.6,636.8L335.5,681.8M288.6,636.8L330.6,681.8M283.7,636.8L325.7,681.8M278.8,636.8L320.8,681.8M273.9,636.8L315.8,681.8M268.9,636.8L310.9,681.8M264.0,636.8L306.0,681.8M259.1,636.8L301.1,681.8M254.2,636.8L296.1,681.8M249.3,636.8L291.2,681.8M244.3,636.8L286.3,681.8M239.4,636.8L281.4,681.8M239.2,641.8L276.5,681.8M239.2,647.1L271.5,681.8M239.2,652.4L266.6,681.8M239.2,657.7L261.7,681.8M239.2,663.0L256.8,681.8M239.2,668.2L251.8,681.8M239.2,673.5L246.9,681.8M239.2,678.8L242.0,681.8" clip-path="url(#c23)" fill="none" stroke="#2c2c2c" stroke-width="1.15"/>
<path d="M240.2,639.3 L241.7,637.8 L348.9,637.8 L350.4,639.3 L350.4,650.3 L348.9,651.8 L347.1,653.6 L319.6,667 L319.6,680.8 L271,680.8 L271,667 L243.5,653.6 L241.7,651.8 L240.2,650.3Z" fill="none" stroke="#2c2c2c" stroke-width="1.4" stroke-linejoin="round"/>
<path d="M274.1,638.9 L274.1,645.7 L316.5,645.7 L316.5,638.9Z" fill="#fff" stroke="#2c2c2c" stroke-width="0.9" stroke-linejoin="round" />
<line x1="274.1" y1="647.5" x2="283.4" y2="647.5" stroke="#2c2c2c" stroke-width="0.8"/>
<line x1="307.4" y1="647.5" x2="316.5" y2="647.5" stroke="#2c2c2c" stroke-width="0.8"/>
<path d="M283.4,645.7 L283.4,684 L307.4,684 L307.4,645.7Z" fill="#fff" stroke="#2c2c2c" stroke-width="1.0" stroke-linejoin="round" />
<line x1="285.3" y1="646.0" x2="285.3" y2="684.0" stroke="#2c2c2c" stroke-width="0.8"/>
<line x1="305.5" y1="646.0" x2="305.5" y2="684.0" stroke="#2c2c2c" stroke-width="0.8"/>
<line x1="283.4" y1="646.8" x2="307.4" y2="646.8" stroke="#2c2c2c" stroke-width="0.8"/>
<line x1="283.4" y1="648.3" x2="307.4" y2="648.3" stroke="#2c2c2c" stroke-width="0.7"/>
<clipPath id="c24"><path d="M250.1,638.9 L274.1,638.9 L272.8,647.5 L251.6,647.5Z"/></clipPath>
<path d="M250.1,638.9 L274.1,638.9 L272.8,647.5 L251.6,647.5Z" fill="#2c2c2c" stroke="none"/>
<path d="M241.05,635.80L242.50,634.35L243.95,635.80L242.50,637.25ZM245.45,635.80L246.90,634.35L248.35,635.80L246.90,637.25ZM249.85,635.80L251.30,634.35L252.75,635.80L251.30,637.25ZM254.25,635.80L255.70,634.35L257.15,635.80L255.70,637.25ZM258.65,635.80L260.10,634.35L261.55,635.80L260.10,637.25ZM263.05,635.80L264.50,634.35L265.95,635.80L264.50,637.25ZM267.45,635.80L268.90,634.35L270.35,635.80L268.90,637.25ZM271.85,635.80L273.30,634.35L274.75,635.80L273.30,637.25ZM276.25,635.80L277.70,634.35L279.15,635.80L277.70,637.25ZM280.65,635.80L282.10,634.35L283.55,635.80L282.10,637.25ZM243.25,638.10L244.70,636.65L246.15,638.10L244.70,639.55ZM247.65,638.10L249.10,636.65L250.55,638.10L249.10,639.55ZM252.05,638.10L253.50,636.65L254.95,638.10L253.50,639.55ZM256.45,638.10L257.90,636.65L259.35,638.10L257.90,639.55ZM260.85,638.10L262.30,636.65L263.75,638.10L262.30,639.55ZM265.25,638.10L266.70,636.65L268.15,638.10L266.70,639.55ZM269.65,638.10L271.10,636.65L272.55,638.10L271.10,639.55ZM274.05,638.10L275.50,636.65L276.95,638.10L275.50,639.55ZM278.45,638.10L279.90,636.65L281.35,638.10L279.90,639.55ZM241.05,640.40L242.50,638.95L243.95,640.40L242.50,641.85ZM245.45,640.40L246.90,638.95L248.35,640.40L246.90,641.85ZM249.85,640.40L251.30,638.95L252.75,640.40L251.30,641.85ZM254.25,640.40L255.70,638.95L257.15,640.40L255.70,641.85ZM258.65,640.40L260.10,638.95L261.55,640.40L260.10,641.85ZM263.05,640.40L264.50,638.95L265.95,640.40L264.50,641.85ZM267.45,640.40L268.90,638.95L270.35,640.40L268.90,641.85ZM271.85,640.40L273.30,638.95L274.75,640.40L273.30,641.85ZM276.25,640.40L277.70,638.95L279.15,640.40L277.70,641.85ZM280.65,640.40L282.10,638.95L283.55,640.40L282.10,641.85ZM243.25,642.70L244.70,641.25L246.15,642.70L244.70,644.15ZM247.65,642.70L249.10,641.25L250.55,642.70L249.10,644.15ZM252.05,642.70L253.50,641.25L254.95,642.70L253.50,644.15ZM256.45,642.70L257.90,641.25L259.35,642.70L257.90,644.15ZM260.85,642.70L262.30,641.25L263.75,642.70L262.30,644.15ZM265.25,642.70L266.70,641.25L268.15,642.70L266.70,644.15ZM269.65,642.70L271.10,641.25L272.55,642.70L271.10,644.15ZM274.05,642.70L275.50,641.25L276.95,642.70L275.50,644.15ZM278.45,642.70L279.90,641.25L281.35,642.70L279.90,644.15ZM241.05,645.00L242.50,643.55L243.95,645.00L242.50,646.45ZM245.45,645.00L246.90,643.55L248.35,645.00L246.90,646.45ZM249.85,645.00L251.30,643.55L252.75,645.00L251.30,646.45ZM254.25,645.00L255.70,643.55L257.15,645.00L255.70,646.45ZM258.65,645.00L260.10,643.55L261.55,645.00L260.10,646.45ZM263.05,645.00L264.50,643.55L265.95,645.00L264.50,646.45ZM267.45,645.00L268.90,643.55L270.35,645.00L268.90,646.45ZM271.85,645.00L273.30,643.55L274.75,645.00L273.30,646.45ZM276.25,645.00L277.70,643.55L279.15,645.00L277.70,646.45ZM280.65,645.00L282.10,643.55L283.55,645.00L282.10,646.45ZM243.25,647.30L244.70,645.85L246.15,647.30L244.70,648.75ZM247.65,647.30L249.10,645.85L250.55,647.30L249.10,648.75ZM252.05,647.30L253.50,645.85L254.95,647.30L253.50,648.75ZM256.45,647.30L257.90,645.85L259.35,647.30L257.90,648.75ZM260.85,647.30L262.30,645.85L263.75,647.30L262.30,648.75ZM265.25,647.30L266.70,645.85L268.15,647.30L266.70,648.75ZM269.65,647.30L271.10,645.85L272.55,647.30L271.10,648.75ZM274.05,647.30L275.50,645.85L276.95,647.30L275.50,648.75ZM278.45,647.30L279.90,645.85L281.35,647.30L279.90,648.75ZM241.05,649.60L242.50,648.15L243.95,649.60L242.50,651.05ZM245.45,649.60L246.90,648.15L248.35,649.60L246.90,651.05ZM249.85,649.60L251.30,648.15L252.75,649.60L251.30,651.05ZM254.25,649.60L255.70,648.15L257.15,649.60L255.70,651.05ZM258.65,649.60L260.10,648.15L261.55,649.60L260.10,651.05ZM263.05,649.60L264.50,648.15L265.95,649.60L264.50,651.05ZM267.45,649.60L268.90,648.15L270.35,649.60L268.90,651.05ZM271.85,649.60L273.30,648.15L274.75,649.60L273.30,651.05ZM276.25,649.60L277.70,648.15L279.15,649.60L277.70,651.05ZM280.65,649.60L282.10,648.15L283.55,649.60L282.10,651.05ZM243.25,651.90L244.70,650.45L246.15,651.90L244.70,653.35ZM247.65,651.90L249.10,650.45L250.55,651.90L249.10,653.35ZM252.05,651.90L253.50,650.45L254.95,651.90L253.50,653.35ZM256.45,651.90L257.90,650.45L259.35,651.90L257.90,653.35ZM260.85,651.90L262.30,650.45L263.75,651.90L262.30,653.35ZM265.25,651.90L266.70,650.45L268.15,651.90L266.70,653.35ZM269.65,651.90L271.10,650.45L272.55,651.90L271.10,653.35ZM274.05,651.90L275.50,650.45L276.95,651.90L275.50,653.35ZM278.45,651.90L279.90,650.45L281.35,651.90L279.90,653.35Z" clip-path="url(#c24)" fill="#fff" stroke="none"/>
<path d="M250.1,638.9 L274.1,638.9 L272.8,647.5 L251.6,647.5Z" fill="none" stroke="#2c2c2c" stroke-width="1.1" stroke-linejoin="round"/>
<clipPath id="c25"><path d="M340.5,638.9 L316.5,638.9 L317.8,647.5 L339.0,647.5Z"/></clipPath>
<path d="M340.5,638.9 L316.5,638.9 L317.8,647.5 L339.0,647.5Z" fill="#2c2c2c" stroke="none"/>
<path d="M307.45,635.80L308.90,634.35L310.35,635.80L308.90,637.25ZM311.85,635.80L313.30,634.35L314.75,635.80L313.30,637.25ZM316.25,635.80L317.70,634.35L319.15,635.80L317.70,637.25ZM320.65,635.80L322.10,634.35L323.55,635.80L322.10,637.25ZM325.05,635.80L326.50,634.35L327.95,635.80L326.50,637.25ZM329.45,635.80L330.90,634.35L332.35,635.80L330.90,637.25ZM333.85,635.80L335.30,634.35L336.75,635.80L335.30,637.25ZM338.25,635.80L339.70,634.35L341.15,635.80L339.70,637.25ZM342.65,635.80L344.10,634.35L345.55,635.80L344.10,637.25ZM347.05,635.80L348.50,634.35L349.95,635.80L348.50,637.25ZM309.65,638.10L311.10,636.65L312.55,638.10L311.10,639.55ZM314.05,638.10L315.50,636.65L316.95,638.10L315.50,639.55ZM318.45,638.10L319.90,636.65L321.35,638.10L319.90,639.55ZM322.85,638.10L324.30,636.65L325.75,638.10L324.30,639.55ZM327.25,638.10L328.70,636.65L330.15,638.10L328.70,639.55ZM331.65,638.10L333.10,636.65L334.55,638.10L333.10,639.55ZM336.05,638.10L337.50,636.65L338.95,638.10L337.50,639.55ZM340.45,638.10L341.90,636.65L343.35,638.10L341.90,639.55ZM344.85,638.10L346.30,636.65L347.75,638.10L346.30,639.55ZM307.45,640.40L308.90,638.95L310.35,640.40L308.90,641.85ZM311.85,640.40L313.30,638.95L314.75,640.40L313.30,641.85ZM316.25,640.40L317.70,638.95L319.15,640.40L317.70,641.85ZM320.65,640.40L322.10,638.95L323.55,640.40L322.10,641.85ZM325.05,640.40L326.50,638.95L327.95,640.40L326.50,641.85ZM329.45,640.40L330.90,638.95L332.35,640.40L330.90,641.85ZM333.85,640.40L335.30,638.95L336.75,640.40L335.30,641.85ZM338.25,640.40L339.70,638.95L341.15,640.40L339.70,641.85ZM342.65,640.40L344.10,638.95L345.55,640.40L344.10,641.85ZM347.05,640.40L348.50,638.95L349.95,640.40L348.50,641.85ZM309.65,642.70L311.10,641.25L312.55,642.70L311.10,644.15ZM314.05,642.70L315.50,641.25L316.95,642.70L315.50,644.15ZM318.45,642.70L319.90,641.25L321.35,642.70L319.90,644.15ZM322.85,642.70L324.30,641.25L325.75,642.70L324.30,644.15ZM327.25,642.70L328.70,641.25L330.15,642.70L328.70,644.15ZM331.65,642.70L333.10,641.25L334.55,642.70L333.10,644.15ZM336.05,642.70L337.50,641.25L338.95,642.70L337.50,644.15ZM340.45,642.70L341.90,641.25L343.35,642.70L341.90,644.15ZM344.85,642.70L346.30,641.25L347.75,642.70L346.30,644.15ZM307.45,645.00L308.90,643.55L310.35,645.00L308.90,646.45ZM311.85,645.00L313.30,643.55L314.75,645.00L313.30,646.45ZM316.25,645.00L317.70,643.55L319.15,645.00L317.70,646.45ZM320.65,645.00L322.10,643.55L323.55,645.00L322.10,646.45ZM325.05,645.00L326.50,643.55L327.95,645.00L326.50,646.45ZM329.45,645.00L330.90,643.55L332.35,645.00L330.90,646.45ZM333.85,645.00L335.30,643.55L336.75,645.00L335.30,646.45ZM338.25,645.00L339.70,643.55L341.15,645.00L339.70,646.45ZM342.65,645.00L344.10,643.55L345.55,645.00L344.10,646.45ZM347.05,645.00L348.50,643.55L349.95,645.00L348.50,646.45ZM309.65,647.30L311.10,645.85L312.55,647.30L311.10,648.75ZM314.05,647.30L315.50,645.85L316.95,647.30L315.50,648.75ZM318.45,647.30L319.90,645.85L321.35,647.30L319.90,648.75ZM322.85,647.30L324.30,645.85L325.75,647.30L324.30,648.75ZM327.25,647.30L328.70,645.85L330.15,647.30L328.70,648.75ZM331.65,647.30L333.10,645.85L334.55,647.30L333.10,648.75ZM336.05,647.30L337.50,645.85L338.95,647.30L337.50,648.75ZM340.45,647.30L341.90,645.85L343.35,647.30L341.90,648.75ZM344.85,647.30L346.30,645.85L347.75,647.30L346.30,648.75ZM307.45,649.60L308.90,648.15L310.35,649.60L308.90,651.05ZM311.85,649.60L313.30,648.15L314.75,649.60L313.30,651.05ZM316.25,649.60L317.70,648.15L319.15,649.60L317.70,651.05ZM320.65,649.60L322.10,648.15L323.55,649.60L322.10,651.05ZM325.05,649.60L326.50,648.15L327.95,649.60L326.50,651.05ZM329.45,649.60L330.90,648.15L332.35,649.60L330.90,651.05ZM333.85,649.60L335.30,648.15L336.75,649.60L335.30,651.05ZM338.25,649.60L339.70,648.15L341.15,649.60L339.70,651.05ZM342.65,649.60L344.10,648.15L345.55,649.60L344.10,651.05ZM347.05,649.60L348.50,648.15L349.95,649.60L348.50,651.05ZM309.65,651.90L311.10,650.45L312.55,651.90L311.10,653.35ZM314.05,651.90L315.50,650.45L316.95,651.90L315.50,653.35ZM318.45,651.90L319.90,650.45L321.35,651.90L319.90,653.35ZM322.85,651.90L324.30,650.45L325.75,651.90L324.30,653.35ZM327.25,651.90L328.70,650.45L330.15,651.90L328.70,653.35ZM331.65,651.90L333.10,650.45L334.55,651.90L333.10,653.35ZM336.05,651.90L337.50,650.45L338.95,651.90L337.50,653.35ZM340.45,651.90L341.90,650.45L343.35,651.90L341.90,653.35ZM344.85,651.90L346.30,650.45L347.75,651.90L346.30,653.35Z" clip-path="url(#c25)" fill="#fff" stroke="none"/>
<path d="M340.5,638.9 L316.5,638.9 L317.8,647.5 L339.0,647.5Z" fill="none" stroke="#2c2c2c" stroke-width="1.1" stroke-linejoin="round"/>
<rect x="268.6" y="682.0" width="52.8" height="2.6" fill="#2c2c2c"/>
<rect x="319.6" y="672" width="1.8" height="11" fill="#2c2c2c"/>
<rect x="268.6" y="683" width="1.8" height="10" fill="#2c2c2c"/>
<path d="M270.2,684.6 L270.2,691.6 L273.2,694.6 L317.6,694.6 L320.6,691.6 L320.6,684.6Z" fill="#fff" stroke="#2c2c2c" stroke-width="1.35" stroke-linejoin="round" />
<line x1="283.4" y1="684.6" x2="283.4" y2="694.6" stroke="#2c2c2c" stroke-width="1.3"/>
<line x1="307.4" y1="684.6" x2="307.4" y2="694.6" stroke="#2c2c2c" stroke-width="1.3"/>
<path d="M285.8,694.6 L285.8,715 L287.2,716.4 L303.7,716.4 L305.1,715 L305.1,694.6" fill="#fff" stroke="#2c2c2c" stroke-width="1.35" stroke-linejoin="round" />
<line x1="285.8" y1="714.8" x2="305.1" y2="714.8" stroke="#2c2c2c" stroke-width="0.7"/>
<path d="M205.2,735.4 L237.5,735.4 L237.5,724 L244,724 Q246.5,733.5 252,733.5 L264,733.5 Q269.5,733.5 271,726 L275.7,707.5 Q276.2,704.7 279,704.7 L284.8,704.7 L284.8,742 L295.3,749 L305.8,742 L305.8,704.7 L311.6,704.7 Q314.4,704.7 314.9,707.5 L319.6,726 Q321.1,733.5 326.6,733.5 L338.6,733.5 Q344.1,733.5 346.6,724 L353.1,724 L353.1,735.4 L384.5,735.4 L384.5,754 Q384.5,759 379.5,759 L210.2,759 Q205.2,759 205.2,754Z" fill="#fff" stroke="none"/>
<clipPath id="c26"><path d="M205.2,735.4 L237.5,735.4 L237.5,724 L244,724 Q246.5,733.5 252,733.5 L264,733.5 Q269.5,733.5 271,726 L275.7,707.5 Q276.2,704.7 279,704.7 L284.8,704.7 L284.8,742 L295.3,749 L305.8,742 L305.8,704.7 L311.6,704.7 Q314.4,704.7 314.9,707.5 L319.6,726 Q321.1,733.5 326.6,733.5 L338.6,733.5 Q344.1,733.5 346.6,724 L353.1,724 L353.1,735.4 L384.5,735.4 L384.5,754 Q384.5,759 379.5,759 L210.2,759 Q205.2,759 205.2,754Z"/></clipPath>
<path d="M204.2,704.9L205.6,703.7M204.2,709.8L211.5,703.7M204.2,714.7L217.3,703.7M204.2,719.6L223.1,703.7M204.2,724.5L229.0,703.7M204.2,729.4L234.8,703.7M204.2,734.3L240.6,703.7M204.2,739.2L246.5,703.7M204.2,744.1L252.3,703.7M204.2,749.0L258.1,703.7M204.2,753.9L264.0,703.7M204.2,758.8L269.8,703.7M208.6,760.0L275.7,703.7M214.4,760.0L281.5,703.7M220.2,760.0L287.3,703.7M226.1,760.0L293.2,703.7M231.9,760.0L299.0,703.7M237.7,760.0L304.8,703.7M243.6,760.0L310.7,703.7M249.4,760.0L316.5,703.7M255.2,760.0L322.3,703.7M261.1,760.0L328.2,703.7M266.9,760.0L334.0,703.7M272.7,760.0L339.8,703.7M278.6,760.0L345.7,703.7M284.4,760.0L351.5,703.7M290.2,760.0L357.3,703.7M296.1,760.0L363.2,703.7M301.9,760.0L369.0,703.7M307.7,760.0L374.8,703.7M313.6,760.0L380.7,703.7M319.4,760.0L385.5,704.5M325.2,760.0L385.5,709.4M331.1,760.0L385.5,714.3M336.9,760.0L385.5,719.2M342.7,760.0L385.5,724.1M348.6,760.0L385.5,729.0M354.4,760.0L385.5,733.9M360.2,760.0L385.5,738.8M366.1,760.0L385.5,743.7M371.9,760.0L385.5,748.6M377.7,760.0L385.5,753.5M383.6,760.0L385.5,758.4" clip-path="url(#c26)" fill="none" stroke="#2c2c2c" stroke-width="1.2"/>
<path d="M205.2,735.4 L237.5,735.4 L237.5,724 L244,724 Q246.5,733.5 252,733.5 L264,733.5 Q269.5,733.5 271,726 L275.7,707.5 Q276.2,704.7 279,704.7 L284.8,704.7 L284.8,742 L295.3,749 L305.8,742 L305.8,704.7 L311.6,704.7 Q314.4,704.7 314.9,707.5 L319.6,726 Q321.1,733.5 326.6,733.5 L338.6,733.5 Q344.1,733.5 346.6,724 L353.1,724 L353.1,735.4 L384.5,735.4 L384.5,754 Q384.5,759 379.5,759 L210.2,759 Q205.2,759 205.2,754Z" fill="none" stroke="#2c2c2c" stroke-width="1.4" stroke-linejoin="round"/>
<rect x="205.2" y="733.4" width="32.3" height="2.2" fill="#2c2c2c"/>
<rect x="353.1" y="733.4" width="31.4" height="2.2" fill="#2c2c2c"/>
<line x1="236.0" y1="713.6" x2="244.0" y2="713.6" stroke="#2c2c2c" stroke-width="0.9"/>
<line x1="346.6" y1="713.6" x2="354.4" y2="713.6" stroke="#2c2c2c" stroke-width="0.9"/>
<line x1="244.0" y1="713.6" x2="273.5" y2="713.6" stroke="#2c2c2c" stroke-width="0.8"/>
<line x1="317.0" y1="713.6" x2="346.6" y2="713.6" stroke="#2c2c2c" stroke-width="0.8"/>
<line x1="302.4" y1="731.5" x2="325.5" y2="725.0" stroke="#2c2c2c" stroke-width="0.8"/>
<line x1="306.0" y1="733.6" x2="321.8" y2="729.0" stroke="#2c2c2c" stroke-width="0.8"/>
<path d="M209.3,759 L209.3,771.6 L229.7,771.6 L229.7,759" fill="#fff" stroke="#2c2c2c" stroke-width="1.35" stroke-linejoin="round" />
<path d="M213.8,771.6 L213.8,776 L215.5,778 L223.5,778 L225.2,776 L225.2,771.6" fill="#fff" stroke="#2c2c2c" stroke-width="0.9" stroke-linejoin="round" />
<line x1="213.8" y1="774.5" x2="225.2" y2="774.5" stroke="#2c2c2c" stroke-width="0.7"/>
<line x1="219.5" y1="759.0" x2="219.5" y2="771.6" stroke="#2c2c2c" stroke-width="0.9"/>
<line x1="219.5" y1="703.0" x2="219.5" y2="783.0" stroke="#2c2c2c" stroke-width="0.9"/>
<path d="M361.0,759 L361.0,771.6 L381.4,771.6 L381.4,759" fill="#fff" stroke="#2c2c2c" stroke-width="1.35" stroke-linejoin="round" />
<path d="M365.5,771.6 L365.5,776 L367.2,778 L375.2,778 L376.9,776 L376.9,771.6" fill="#fff" stroke="#2c2c2c" stroke-width="0.9" stroke-linejoin="round" />
<line x1="365.5" y1="774.5" x2="376.9" y2="774.5" stroke="#2c2c2c" stroke-width="0.7"/>
<line x1="371.2" y1="759.0" x2="371.2" y2="771.6" stroke="#2c2c2c" stroke-width="0.9"/>
<line x1="371.2" y1="703.0" x2="371.2" y2="783.0" stroke="#2c2c2c" stroke-width="0.9"/>
<line x1="295.3" y1="15.4" x2="295.3" y2="778" stroke="#2c2c2c" stroke-width="0.85" stroke-dasharray="47 12" />
<rect x="294.3" y="14" width="2" height="5.2" fill="#fff"/>
<line x1="253.0" y1="184.5" x2="253.0" y2="446.0" stroke="#2c2c2c" stroke-width="0.9" stroke-dasharray="46 8"/>
<line x1="338.0" y1="184.5" x2="338.0" y2="446.0" stroke="#2c2c2c" stroke-width="0.9" stroke-dasharray="46 8"/>
<line x1="88.6" y1="618.8" x2="438.5" y2="618.8" stroke="#2c2c2c" stroke-width="0.85" stroke-dasharray="50 10.5"/>
<line x1="451.0" y1="618.8" x2="620.7" y2="618.8" stroke="#2c2c2c" stroke-width="0.85"/>
<line x1="187.0" y1="443.0" x2="187.0" y2="471.0" stroke="#2c2c2c" stroke-width="0.7" stroke-dasharray="9 2 3 2"/>
<line x1="194.2" y1="443.0" x2="194.2" y2="471.0" stroke="#2c2c2c" stroke-width="0.7" stroke-dasharray="9 2 3 2"/>
<line x1="396.6" y1="443.0" x2="396.6" y2="471.0" stroke="#2c2c2c" stroke-width="0.7" stroke-dasharray="9 2 3 2"/>
<line x1="403.6" y1="443.0" x2="403.6" y2="471.0" stroke="#2c2c2c" stroke-width="0.7" stroke-dasharray="9 2 3 2"/>
<line x1="457.2" y1="526.2" x2="468.5" y2="526.2" stroke="#2c2c2c" stroke-width="1.0"/>
<line x1="457.2" y1="712.4" x2="468.5" y2="712.4" stroke="#2c2c2c" stroke-width="1.0"/>
<line x1="91.8" y1="551.6" x2="99.6" y2="551.6" stroke="#2c2c2c" stroke-width="0.8"/>
<path d="M94.5,551.6 L97.2,550.2 L97.2,552.6Z" fill="#2c2c2c"/>
<line x1="490.6" y1="551.6" x2="498.0" y2="551.6" stroke="#2c2c2c" stroke-width="0.8"/>
<path d="M495.9,551.6 L493.2,550.2 L493.2,552.6Z" fill="#2c2c2c"/>
<line x1="91.8" y1="559.6" x2="99.6" y2="559.6" stroke="#2c2c2c" stroke-width="0.8"/>
<path d="M94.5,559.6 L97.2,558.2 L97.2,560.6Z" fill="#2c2c2c"/>
<line x1="490.6" y1="559.6" x2="498.0" y2="559.6" stroke="#2c2c2c" stroke-width="0.8"/>
<path d="M495.9,559.6 L493.2,558.2 L493.2,560.6Z" fill="#2c2c2c"/>
<line x1="91.8" y1="678.0" x2="99.6" y2="678.0" stroke="#2c2c2c" stroke-width="0.8"/>
<path d="M94.5,678.0 L97.2,676.6 L97.2,679.0Z" fill="#2c2c2c"/>
<line x1="490.6" y1="678.0" x2="498.0" y2="678.0" stroke="#2c2c2c" stroke-width="0.8"/>
<path d="M495.9,678.0 L493.2,676.6 L493.2,679.0Z" fill="#2c2c2c"/>
<line x1="91.8" y1="686.0" x2="99.6" y2="686.0" stroke="#2c2c2c" stroke-width="0.8"/>
<path d="M94.5,686.0 L97.2,684.6 L97.2,687.0Z" fill="#2c2c2c"/>
<line x1="490.6" y1="686.0" x2="498.0" y2="686.0" stroke="#2c2c2c" stroke-width="0.8"/>
<path d="M495.9,686.0 L493.2,684.6 L493.2,687.0Z" fill="#2c2c2c"/>
<line x1="29.0" y1="494.4" x2="96.3" y2="494.4" stroke="#2c2c2c" stroke-width="1.0"/>
<line x1="29.0" y1="744.5" x2="96.3" y2="744.5" stroke="#2c2c2c" stroke-width="1.0"/>
<line x1="32.9" y1="494.4" x2="32.9" y2="744.5" stroke="#2c2c2c" stroke-width="1.0"/>
<path d="M32.9,494.4 L34.0,501.4 L31.8,501.4Z" fill="#2c2c2c"/>
<path d="M32.9,744.5 L31.8,737.5 L34.0,737.5Z" fill="#2c2c2c"/>
<line x1="48.0" y1="526.2" x2="104.0" y2="526.2" stroke="#2c2c2c" stroke-width="1.0"/>
<line x1="48.0" y1="712.4" x2="104.0" y2="712.4" stroke="#2c2c2c" stroke-width="1.0"/>
<line x1="52.6" y1="526.2" x2="52.6" y2="712.4" stroke="#2c2c2c" stroke-width="1.0"/>
<path d="M52.6,526.2 L53.7,533.2 L51.5,533.2Z" fill="#2c2c2c"/>
<path d="M52.6,712.4 L51.5,705.4 L53.7,705.4Z" fill="#2c2c2c"/>
<line x1="116.5" y1="526.2" x2="134.5" y2="526.2" stroke="#2c2c2c" stroke-width="1.0"/>
<line x1="116.5" y1="712.4" x2="134.5" y2="712.4" stroke="#2c2c2c" stroke-width="1.0"/>
<line x1="70.8" y1="578.8" x2="94.5" y2="578.8" stroke="#2c2c2c" stroke-width="1.0"/>
<line x1="70.8" y1="659.3" x2="94.5" y2="659.3" stroke="#2c2c2c" stroke-width="1.0"/>
<line x1="74.6" y1="578.8" x2="74.6" y2="659.3" stroke="#2c2c2c" stroke-width="1.0"/>
<path d="M74.6,578.8 L75.7,585.8 L73.5,585.8Z" fill="#2c2c2c"/>
<path d="M74.6,659.3 L73.5,652.3 L75.7,652.3Z" fill="#2c2c2c"/>
<line x1="94.5" y1="546.0" x2="94.5" y2="812.0" stroke="#2c2c2c" stroke-width="1.1"/>
<line x1="495.9" y1="546.0" x2="495.9" y2="812.0" stroke="#2c2c2c" stroke-width="1.1"/>
<line x1="94.5" y1="806.9" x2="495.9" y2="806.9" stroke="#2c2c2c" stroke-width="1.0"/>
<path d="M94.5,806.9 L101.5,805.8 L101.5,808.0Z" fill="#2c2c2c"/>
<path d="M495.9,806.9 L488.9,808.0 L488.9,805.8Z" fill="#2c2c2c"/>
<line x1="318.0" y1="24.2" x2="621.0" y2="24.2" stroke="#2c2c2c" stroke-width="1.0"/>
<line x1="617.0" y1="24.2" x2="617.0" y2="618.8" stroke="#2c2c2c" stroke-width="1.0"/>
<path d="M617.0,24.2 L618.1,31.2 L615.9,31.2Z" fill="#2c2c2c"/>
<path d="M617.0,618.8 L615.9,611.8 L618.1,611.8Z" fill="#2c2c2c"/>
<line x1="494.6" y1="494.4" x2="569.0" y2="494.4" stroke="#2c2c2c" stroke-width="1.0"/>
<line x1="494.6" y1="744.5" x2="569.0" y2="744.5" stroke="#2c2c2c" stroke-width="1.0"/>
<line x1="565.6" y1="494.4" x2="565.6" y2="744.5" stroke="#2c2c2c" stroke-width="1.0"/>
<path d="M565.6,494.4 L566.7,501.4 L564.5,501.4Z" fill="#2c2c2c"/>
<path d="M565.6,744.5 L564.5,737.5 L566.7,737.5Z" fill="#2c2c2c"/>
<line x1="494.6" y1="579.6" x2="524.2" y2="579.6" stroke="#2c2c2c" stroke-width="1.0"/>
<line x1="494.6" y1="659.0" x2="524.2" y2="659.0" stroke="#2c2c2c" stroke-width="1.0"/>
<line x1="520.2" y1="579.6" x2="520.2" y2="659.0" stroke="#2c2c2c" stroke-width="1.0"/>
<path d="M520.2,579.6 L521.3,586.6 L519.1,586.6Z" fill="#2c2c2c"/>
<path d="M520.2,659.0 L519.1,652.0 L521.3,652.0Z" fill="#2c2c2c"/>
<path d="M483.1,525.3 A94.2,94.2 0 0 1 542.7,537.8" fill="none" stroke="#2c2c2c" stroke-width="1.1"/>
<path d="M556.0,547.4 A94.2,94.2 0 0 1 582.2,584.3" fill="none" stroke="#2c2c2c" stroke-width="1.1"/>
<path d="M586.1,596.5 A94.2,94.2 0 0 1 585.8,642.5" fill="none" stroke="#2c2c2c" stroke-width="1.1"/>
<path d="M581.8,654.5 A94.2,94.2 0 0 1 555.5,690.6" fill="none" stroke="#2c2c2c" stroke-width="1.1"/>
<path d="M542.1,700.1 A94.2,94.2 0 0 1 483.1,712.3" fill="none" stroke="#2c2c2c" stroke-width="1.1"/>
<circle cx="543.4" cy="538.2" r="15.3" fill="none" stroke="#2c2c2c" stroke-width="1.15"/>
<line x1="529.4" y1="561.3" x2="540.5" y2="542.9" stroke="#2c2c2c" stroke-width="1.0"/>
<line x1="546.2" y1="533.5" x2="557.4" y2="515.1" stroke="#2c2c2c" stroke-width="1.0"/>
<circle cx="588.8" cy="618.8" r="15.3" fill="none" stroke="#2c2c2c" stroke-width="1.15"/>
<circle cx="542.8" cy="699.7" r="15.3" fill="none" stroke="#2c2c2c" stroke-width="1.15"/>
<line x1="529.0" y1="676.5" x2="540.0" y2="695.0" stroke="#2c2c2c" stroke-width="1.0"/>
<line x1="545.7" y1="704.4" x2="556.7" y2="722.9" stroke="#2c2c2c" stroke-width="1.0"/>
<line x1="479.9" y1="632.3" x2="564.1" y2="555.2" stroke="#2c2c2c" stroke-width="1.1"/>
<path d="M564.1,555.2 L559.6,560.7 L558.1,559.1Z" fill="#2c2c2c"/>
<line x1="530.9" y1="695.5" x2="609.8" y2="724.2" stroke="#2c2c2c" stroke-width="1.1"/>
<line x1="124.0" y1="714.0" x2="147.1" y2="734.3" stroke="#2c2c2c" stroke-width="1.1"/>
<line x1="147.1" y1="734.3" x2="193.2" y2="734.3" stroke="#2c2c2c" stroke-width="1.1"/>
<path d="M123.4,713.4 L128.6,716.6 L127.2,718.1Z" fill="#2c2c2c"/>
<path d="M 0.00,-0.00 L 3.20,-12.30 L 6.15,-12.30 Q 10.09,-12.30 9.06,-8.36 L 7.91,-3.94 Q 6.89,-0.00 2.95,-0.00 Z M 12.63,-8.86 L 17.22,-12.30 L 14.02,-0.00" transform="translate(30.9,627.0) rotate(-90)" fill="none" stroke="#2c2c2c" stroke-width="1.15" stroke-linecap="round" stroke-linejoin="round"/>
<path d="M 9.32,-9.35 Q 9.59,-12.30 6.89,-12.30 Q 3.20,-12.30 2.17,-8.36 L 1.02,-3.94 Q 0.00,-0.00 3.44,-0.00 Q 6.40,-0.00 7.66,-2.95 M 12.63,-8.86 L 17.22,-12.30 L 14.02,-0.00" transform="translate(50.4,627.0) rotate(-90)" fill="none" stroke="#2c2c2c" stroke-width="1.15" stroke-linecap="round" stroke-linejoin="round"/>
<path d="M 0.00,-0.00 L 3.20,-12.30 L 6.15,-12.30 Q 10.09,-12.30 9.06,-8.36 L 7.91,-3.94 Q 6.89,-0.00 2.95,-0.00 Z M 10.33,-0.00 L 13.53,-12.30 L 17.22,-0.00 L 20.42,-12.30" transform="translate(72.8,628.4) rotate(-90)" fill="none" stroke="#2c2c2c" stroke-width="1.15" stroke-linecap="round" stroke-linejoin="round"/>
<path d="M 0.00,-0.00 L 2.81,-10.80 L 5.40,-10.80 Q 8.86,-10.80 7.96,-7.34 L 6.95,-3.46 Q 6.05,-0.00 2.59,-0.00 Z M 9.07,-0.00 L 11.88,-10.80 L 15.12,-0.00 L 17.93,-10.80" transform="translate(517.7,628.2) rotate(-90)" fill="none" stroke="#2c2c2c" stroke-width="1.15" stroke-linecap="round" stroke-linejoin="round"/>
<path d="M 0.00,-0.00 L 2.81,-10.80 L 5.40,-10.80 Q 8.86,-10.80 7.96,-7.34 L 6.95,-3.46 Q 6.05,-0.00 2.59,-0.00 Z M 11.42,-8.21 Q 12.53,-10.80 14.90,-10.80 Q 17.50,-10.80 16.82,-8.21 Q 16.32,-6.26 13.38,-4.10 L 9.07,-0.00 L 14.90,-0.00" transform="translate(563.2,628.2) rotate(-90)" fill="none" stroke="#2c2c2c" stroke-width="1.15" stroke-linecap="round" stroke-linejoin="round"/>
<path d="M 0.00,-0.00 L 3.12,-12.00 M 6.72,-0.00 L 9.84,-12.00 M 1.56,-6.00 L 8.28,-6.00" transform="translate(614.6,326.2) rotate(-90)" fill="none" stroke="#2c2c2c" stroke-width="1.15" stroke-linecap="round" stroke-linejoin="round"/>
<path d="M 3.20,-12.30 L 0.00,-0.00 L 5.66,-0.00" transform="translate(292.2,805.6) rotate(0)" fill="none" stroke="#2c2c2c" stroke-width="1.15" stroke-linecap="round" stroke-linejoin="round"/>
<path d="M 0.89,-8.74 Q 1.15,-11.50 -1.38,-11.50 Q -4.83,-11.50 -5.79,-7.82 L -6.86,-3.68 Q -7.82,-0.00 -4.60,-0.00 Q -1.84,-0.00 -0.66,-2.76 M 4.34,-8.74 Q 5.52,-11.50 8.05,-11.50 Q 10.81,-11.50 10.09,-8.74 Q 9.55,-6.67 6.43,-4.37 L 1.84,-0.00 L 8.05,-0.00" transform="translate(536.9,578.0) rotate(-42.5)" fill="none" stroke="#2c2c2c" stroke-width="1.15" stroke-linecap="round" stroke-linejoin="round"/>
<path d="M 0.00,-0.00 L 2.28,-8.78 M 1.59,-6.12 Q 3.61,-8.78 5.74,-8.78 Q 8.13,-8.78 7.44,-6.12 L 5.85,-0.00 M 11.27,-9.58 L 16.23,-13.30 L 12.77,-0.00 M 16.94,-4.79 L 23.59,-4.79 M 34.85,-13.30 L 31.39,-0.00 M 32.98,-6.12 Q 32.87,-8.78 30.48,-8.78 Q 27.55,-8.78 26.72,-5.59 L 26.10,-3.19 Q 25.27,-0.00 28.20,-0.00 Q 30.59,-0.00 32.08,-2.66 M 36.80,-9.58 L 41.76,-13.30 L 38.30,-0.00" transform="translate(150.4,731.0) rotate(0)" fill="none" stroke="#2c2c2c" stroke-width="1.15" stroke-linecap="round" stroke-linejoin="round"/>
<path d="M 0.00,-0.00 L 2.06,-7.92 M 1.44,-5.52 Q 3.26,-7.92 5.18,-7.92 Q 7.34,-7.92 6.72,-5.52 L 5.28,-0.00 M 10.89,-9.12 Q 12.12,-12.00 14.76,-12.00 Q 17.64,-12.00 16.89,-9.12 Q 16.33,-6.96 13.07,-4.56 L 8.28,-0.00 L 14.76,-0.00 M 18.64,-4.32 L 24.64,-4.32 M 35.16,-12.00 L 32.04,-0.00 M 33.48,-5.52 Q 33.38,-7.92 31.22,-7.92 Q 28.58,-7.92 27.83,-5.04 L 27.27,-2.88 Q 26.52,-0.00 29.16,-0.00 Q 31.32,-0.00 32.66,-2.40 M 37.65,-9.12 Q 38.88,-12.00 41.52,-12.00 Q 44.40,-12.00 43.65,-9.12 Q 43.09,-6.96 39.83,-4.56 L 35.04,-0.00 L 41.52,-0.00" transform="translate(567.4,706.0) rotate(20)" fill="none" stroke="#2c2c2c" stroke-width="1.15" stroke-linecap="round" stroke-linejoin="round"/>
</svg>
</body></html>
